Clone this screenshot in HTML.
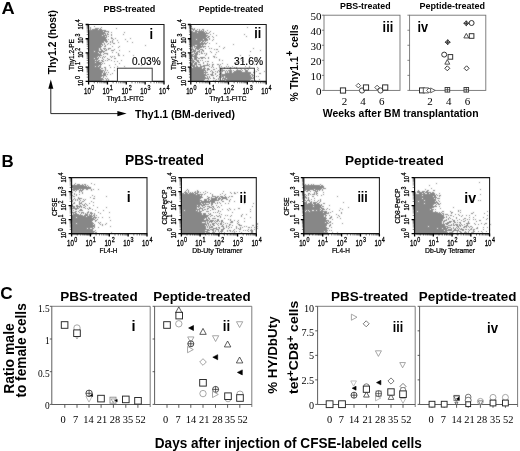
<!DOCTYPE html><html><head><meta charset="utf-8"><title>Figure</title><style>html,body{margin:0;padding:0;background:#fff}svg{display:block;will-change:transform}.ls{font-family:"Liberation Sans",sans-serif}.lf{font-family:"Liberation Serif",serif}</style></head><body>
<svg width="520" height="451" viewBox="0 0 520 451">
<defs><filter id="bl" x="-5%" y="-5%" width="110%" height="110%"><feConvolveMatrix order="3" kernelMatrix="1 2 1 2 14 2 1 2 1" divisor="26" edgeMode="none" preserveAlpha="false"/></filter></defs>
<rect width="520" height="451" fill="#fff"/>
<text class="ls" x="1.6" y="13.5" font-size="17.4" font-weight="bold" text-anchor="start" fill="#000" textLength="13.2" lengthAdjust="spacingAndGlyphs">A</text>
<text class="ls" x="1.5" y="167.4" font-size="16.8" font-weight="bold" text-anchor="start" fill="#000" textLength="12.2" lengthAdjust="spacingAndGlyphs">B</text>
<text class="ls" x="0.2" y="298.7" font-size="17" font-weight="bold" text-anchor="start" fill="#000" textLength="12.4" lengthAdjust="spacingAndGlyphs">C</text>
<text class="ls" x="103.4" y="12.4" font-size="9" font-weight="bold" text-anchor="start" fill="#000" textLength="51.8" lengthAdjust="spacingAndGlyphs">PBS-treated</text>
<text class="ls" x="198.8" y="12.4" font-size="9" font-weight="bold" text-anchor="start" fill="#000" textLength="64.6" lengthAdjust="spacingAndGlyphs">Peptide-treated</text>
<path d="M94 26h1v1h-1zM88 27h1v1h-1zM90 27h1v1h-1zM101 27h1v1h-1zM90 28h1v1h-1zM95 28h4v1h-4zM100 28h1v1h-1zM116 28h1v1h-1zM88 29h1v1h-1zM90 29h1v1h-1zM92 29h6v1h-6zM99 29h3v1h-3zM89 30h17v1h-17zM88 31h15v1h-15zM104 31h5v1h-5zM88 32h17v1h-17zM108 32h1v1h-1zM111 32h1v1h-1zM124 32h1v1h-1zM88 33h18v1h-18zM107 33h1v1h-1zM88 34h16v1h-16zM105 34h1v1h-1zM107 34h2v1h-2zM111 34h1v1h-1zM123 34h1v1h-1zM88 35h14v1h-14zM103 35h4v1h-4zM111 35h1v1h-1zM88 36h17v1h-17zM106 36h1v1h-1zM108 36h1v1h-1zM88 37h19v1h-19zM111 37h1v1h-1zM88 38h18v1h-18zM111 38h2v1h-2zM115 38h1v1h-1zM130 38h1v1h-1zM88 39h19v1h-19zM108 39h1v1h-1zM113 39h1v1h-1zM125 39h1v1h-1zM88 40h19v1h-19zM112 40h1v1h-1zM117 40h1v1h-1zM88 41h16v1h-16zM105 41h3v1h-3zM110 41h1v1h-1zM112 41h1v1h-1zM127 41h1v1h-1zM88 42h16v1h-16zM106 42h1v1h-1zM110 42h1v1h-1zM112 42h1v1h-1zM118 42h1v1h-1zM132 42h1v1h-1zM88 43h14v1h-14zM104 43h1v1h-1zM108 43h1v1h-1zM113 43h2v1h-2zM88 44h15v1h-15zM104 44h1v1h-1zM107 44h1v1h-1zM110 44h1v1h-1zM88 45h13v1h-13zM102 45h1v1h-1zM105 45h1v1h-1zM145 45h1v1h-1zM88 46h14v1h-14zM104 46h2v1h-2zM112 46h1v1h-1zM119 46h1v1h-1zM88 47h13v1h-13zM118 47h1v1h-1zM88 48h11v1h-11zM100 48h1v1h-1zM103 48h3v1h-3zM108 48h3v1h-3zM88 49h11v1h-11zM100 49h2v1h-2zM104 49h1v1h-1zM106 49h1v1h-1zM108 49h1v1h-1zM114 49h1v1h-1zM88 50h11v1h-11zM101 50h2v1h-2zM105 50h2v1h-2zM111 50h3v1h-3zM119 50h1v1h-1zM89 51h5v1h-5zM95 51h10v1h-10zM129 51h1v1h-1zM88 52h10v1h-10zM99 52h3v1h-3zM103 52h1v1h-1zM112 52h1v1h-1zM116 52h1v1h-1zM88 53h11v1h-11zM100 53h1v1h-1zM104 53h4v1h-4zM118 53h1v1h-1zM88 54h13v1h-13zM103 54h1v1h-1zM107 54h1v1h-1zM118 54h1v1h-1zM88 55h14v1h-14zM118 55h2v1h-2zM123 55h1v1h-1zM133 55h1v1h-1zM88 56h10v1h-10zM99 56h1v1h-1zM103 56h1v1h-1zM105 56h1v1h-1zM110 56h1v1h-1zM112 56h1v1h-1zM114 56h1v1h-1zM88 57h9v1h-9zM98 57h1v1h-1zM100 57h1v1h-1zM102 57h1v1h-1zM104 57h1v1h-1zM111 57h1v1h-1zM88 58h6v1h-6zM95 58h4v1h-4zM102 58h1v1h-1zM107 58h1v1h-1zM114 58h2v1h-2zM88 59h10v1h-10zM103 59h1v1h-1zM108 59h2v1h-2zM88 60h7v1h-7zM96 60h1v1h-1zM98 60h2v1h-2zM101 60h2v1h-2zM105 60h1v1h-1zM107 60h1v1h-1zM111 60h1v1h-1zM121 60h1v1h-1zM88 61h11v1h-11zM102 61h2v1h-2zM114 61h1v1h-1zM117 61h1v1h-1zM88 62h7v1h-7zM96 62h6v1h-6zM88 63h13v1h-13zM102 63h1v1h-1zM104 63h1v1h-1zM119 63h1v1h-1zM88 64h14v1h-14zM115 64h1v1h-1zM88 65h11v1h-11zM100 65h1v1h-1zM109 65h1v1h-1zM141 65h1v1h-1zM88 66h7v1h-7zM96 66h2v1h-2zM99 66h2v1h-2zM117 66h1v1h-1zM124 66h1v1h-1zM88 67h13v1h-13zM104 67h2v1h-2zM110 67h1v1h-1zM114 67h1v1h-1zM88 68h12v1h-12zM101 68h2v1h-2zM105 68h1v1h-1zM125 68h1v1h-1zM88 69h13v1h-13zM105 69h1v1h-1zM126 69h1v1h-1zM88 70h16v1h-16zM105 70h1v1h-1zM107 70h1v1h-1zM114 70h1v1h-1zM88 71h15v1h-15zM104 71h1v1h-1zM88 72h15v1h-15zM104 72h1v1h-1zM106 72h1v1h-1zM108 72h1v1h-1zM88 73h14v1h-14zM103 73h3v1h-3zM112 73h1v1h-1zM88 74h14v1h-14zM103 74h3v1h-3zM107 74h1v1h-1zM110 74h1v1h-1zM88 75h18v1h-18zM88 76h14v1h-14zM103 76h1v1h-1zM106 76h1v1h-1zM88 77h13v1h-13zM103 77h1v1h-1zM126 77h1v1h-1zM88 78h15v1h-15zM105 78h1v1h-1zM107 78h1v1h-1zM88 79h16v1h-16zM106 79h1v1h-1zM108 79h1v1h-1zM88 80h14v1h-14zM106 80h1v1h-1zM108 80h1v1h-1zM88 81h13v1h-13zM102 81h2v1h-2zM108 81h1v1h-1zM112 81h1v1h-1z" fill="#878787" filter="url(#bl)"/>
<path d="M88.6 24.5H164V81.4" fill="none" stroke="#1a1a1a" stroke-width="1.05"/>
<path d="M88.6 24.1V81.4H164.4" fill="none" stroke="#111" stroke-width="1.15"/>
<path d="M94.27 81.4v1.9M88.6 77.12h-1.9M97.59 81.4v1.9M88.6 74.61h-1.9M99.95 81.4v1.9M88.6 72.84h-1.9M101.78 81.4v1.9M88.6 71.46h-1.9M103.27 81.4v1.9M88.6 70.33h-1.9M104.53 81.4v1.9M88.6 69.38h-1.9M105.62 81.4v1.9M88.6 68.55h-1.9M106.59 81.4v1.9M88.6 67.83h-1.9M113.12 81.4v1.9M88.6 62.89h-1.9M116.44 81.4v1.9M88.6 60.39h-1.9M118.80 81.4v1.9M88.6 58.61h-1.9M120.63 81.4v1.9M88.6 57.23h-1.9M122.12 81.4v1.9M88.6 56.11h-1.9M123.38 81.4v1.9M88.6 55.15h-1.9M124.47 81.4v1.9M88.6 54.33h-1.9M125.44 81.4v1.9M88.6 53.60h-1.9M131.97 81.4v1.9M88.6 48.67h-1.9M135.29 81.4v1.9M88.6 46.16h-1.9M137.65 81.4v1.9M88.6 44.39h-1.9M139.48 81.4v1.9M88.6 43.01h-1.9M140.97 81.4v1.9M88.6 41.88h-1.9M142.23 81.4v1.9M88.6 40.93h-1.9M143.32 81.4v1.9M88.6 40.10h-1.9M144.29 81.4v1.9M88.6 39.38h-1.9M150.82 81.4v1.9M88.6 34.44h-1.9M154.14 81.4v1.9M88.6 31.94h-1.9M156.50 81.4v1.9M88.6 30.16h-1.9M158.33 81.4v1.9M88.6 28.78h-1.9M159.82 81.4v1.9M88.6 27.66h-1.9M161.08 81.4v1.9M88.6 26.70h-1.9M162.17 81.4v1.9M88.6 25.88h-1.9M163.14 81.4v1.9M88.6 25.15h-1.9" stroke="#222" stroke-width="0.6" fill="none"/>
<path d="M88.60 81.4v3.0M88.6 81.40h-3.0M107.45 81.4v3.0M88.6 67.18h-3.0M126.30 81.4v3.0M88.6 52.95h-3.0M145.15 81.4v3.0M88.6 38.73h-3.0M164 81.4v3.0M88.6 24.5h-3.0" stroke="#000" stroke-width="1.3" fill="none"/>
<text class="ls" transform="translate(84.00 93.90) scale(0.73 1)" font-size="8.4" fill="#000" stroke="#000" stroke-width="0.3">10<tspan dx="0.7" dy="-3.8" font-size="7.4">0</tspan></text>
<text class="ls" transform="translate(83.30 86.10) rotate(-90) scale(0.75 1)" font-size="7.6" fill="#000" stroke="#000" stroke-width="0.3">10<tspan dx="1" dy="-3.8" font-size="7">0</tspan></text>
<text class="ls" transform="translate(102.55 93.90) scale(0.73 1)" font-size="8.4" fill="#000" stroke="#000" stroke-width="0.3">10<tspan dx="0.7" dy="-3.8" font-size="7.4">1</tspan></text>
<text class="ls" transform="translate(83.30 72.08) rotate(-90) scale(0.75 1)" font-size="7.6" fill="#000" stroke="#000" stroke-width="0.3">10<tspan dx="1" dy="-3.8" font-size="7">1</tspan></text>
<text class="ls" transform="translate(121.40 93.90) scale(0.73 1)" font-size="8.4" fill="#000" stroke="#000" stroke-width="0.3">10<tspan dx="0.7" dy="-3.8" font-size="7.4">2</tspan></text>
<text class="ls" transform="translate(83.30 57.85) rotate(-90) scale(0.75 1)" font-size="7.6" fill="#000" stroke="#000" stroke-width="0.3">10<tspan dx="1" dy="-3.8" font-size="7">2</tspan></text>
<text class="ls" transform="translate(140.25 93.90) scale(0.73 1)" font-size="8.4" fill="#000" stroke="#000" stroke-width="0.3">10<tspan dx="0.7" dy="-3.8" font-size="7.4">3</tspan></text>
<text class="ls" transform="translate(83.30 43.62) rotate(-90) scale(0.75 1)" font-size="7.6" fill="#000" stroke="#000" stroke-width="0.3">10<tspan dx="1" dy="-3.8" font-size="7">3</tspan></text>
<text class="ls" transform="translate(159.10 93.90) scale(0.73 1)" font-size="8.4" fill="#000" stroke="#000" stroke-width="0.3">10<tspan dx="0.7" dy="-3.8" font-size="7.4">4</tspan></text>
<text class="ls" transform="translate(83.30 29.40) rotate(-90) scale(0.75 1)" font-size="7.6" fill="#000" stroke="#000" stroke-width="0.3">10<tspan dx="1" dy="-3.8" font-size="7">4</tspan></text>
<text class="ls" x="125.3" y="100.5" font-size="6.6" text-anchor="middle" fill="#000" stroke="#000" stroke-width="0.22" textLength="37" lengthAdjust="spacingAndGlyphs">Thy1.1-FITC</text>
<text class="ls" x="74.19999999999999" y="54.5" font-size="6.8" text-anchor="middle" fill="#000" transform="rotate(-90 74.19999999999999 54.5)" stroke="#000" stroke-width="0.22" textLength="31" lengthAdjust="spacingAndGlyphs">Thy1.2-PE</text>
<rect x="117.4" y="68.2" width="34.8" height="13.2" fill="#fff" stroke="#333" stroke-width="0.95"/>
<text class="ls" x="132" y="64.6" font-size="10" text-anchor="start" fill="#000" stroke="#000" stroke-width="0.15" textLength="28.6" lengthAdjust="spacingAndGlyphs">0.03%</text>
<text class="ls" x="149.6" y="38.6" font-size="15" font-weight="bold" text-anchor="start" fill="#000" textLength="3.6" lengthAdjust="spacingAndGlyphs">i</text>
<path d="M191 26h1v1h-1zM247 27h1v1h-1zM191 28h2v1h-2zM194 28h1v1h-1zM192 29h3v1h-3zM197 29h1v1h-1zM199 29h1v1h-1zM202 29h2v1h-2zM193 30h1v1h-1zM195 30h2v1h-2zM199 30h1v1h-1zM201 30h1v1h-1zM203 30h1v1h-1zM207 30h1v1h-1zM190 31h3v1h-3zM195 31h9v1h-9zM205 31h1v1h-1zM210 31h1v1h-1zM190 32h7v1h-7zM198 32h7v1h-7zM206 32h1v1h-1zM209 32h1v1h-1zM190 33h19v1h-19zM213 33h1v1h-1zM190 34h16v1h-16zM210 34h1v1h-1zM244 34h1v1h-1zM190 35h18v1h-18zM216 35h1v1h-1zM190 36h17v1h-17zM208 36h2v1h-2zM212 36h1v1h-1zM246 36h1v1h-1zM190 37h16v1h-16zM207 37h2v1h-2zM213 37h1v1h-1zM190 38h17v1h-17zM209 38h1v1h-1zM255 38h1v1h-1zM190 39h6v1h-6zM197 39h6v1h-6zM204 39h4v1h-4zM209 39h1v1h-1zM213 39h1v1h-1zM190 40h18v1h-18zM212 40h1v1h-1zM190 41h11v1h-11zM202 41h2v1h-2zM205 41h1v1h-1zM190 42h10v1h-10zM201 42h2v1h-2zM204 42h1v1h-1zM207 42h1v1h-1zM190 43h17v1h-17zM209 43h1v1h-1zM216 43h1v1h-1zM190 44h14v1h-14zM205 44h1v1h-1zM233 44h1v1h-1zM190 45h5v1h-5zM197 45h4v1h-4zM202 45h1v1h-1zM190 46h3v1h-3zM194 46h12v1h-12zM208 46h1v1h-1zM219 46h1v1h-1zM190 47h1v1h-1zM192 47h1v1h-1zM194 47h1v1h-1zM196 47h6v1h-6zM203 47h1v1h-1zM224 47h1v1h-1zM192 48h1v1h-1zM195 48h5v1h-5zM205 48h1v1h-1zM209 48h1v1h-1zM211 48h1v1h-1zM223 48h1v1h-1zM253 48h1v1h-1zM190 49h4v1h-4zM195 49h1v1h-1zM197 49h2v1h-2zM200 49h3v1h-3zM214 49h1v1h-1zM216 49h2v1h-2zM190 50h2v1h-2zM193 50h3v1h-3zM199 50h1v1h-1zM202 50h2v1h-2zM260 50h1v1h-1zM192 51h4v1h-4zM197 51h3v1h-3zM201 51h1v1h-1zM203 51h1v1h-1zM210 51h1v1h-1zM218 51h1v1h-1zM250 51h1v1h-1zM190 52h3v1h-3zM194 52h1v1h-1zM196 52h2v1h-2zM199 52h1v1h-1zM201 52h1v1h-1zM211 52h1v1h-1zM216 52h1v1h-1zM194 53h4v1h-4zM201 53h2v1h-2zM204 53h1v1h-1zM206 53h1v1h-1zM191 54h3v1h-3zM195 54h3v1h-3zM199 54h1v1h-1zM206 54h1v1h-1zM215 54h1v1h-1zM190 55h3v1h-3zM194 55h3v1h-3zM205 55h1v1h-1zM240 55h1v1h-1zM249 55h1v1h-1zM190 56h7v1h-7zM213 56h2v1h-2zM190 57h2v1h-2zM194 57h4v1h-4zM200 57h5v1h-5zM208 57h1v1h-1zM214 57h1v1h-1zM216 57h1v1h-1zM190 58h3v1h-3zM194 58h3v1h-3zM198 58h2v1h-2zM201 58h2v1h-2zM205 58h1v1h-1zM208 58h1v1h-1zM190 59h1v1h-1zM192 59h1v1h-1zM194 59h3v1h-3zM219 59h1v1h-1zM191 60h3v1h-3zM196 60h3v1h-3zM200 60h1v1h-1zM202 60h1v1h-1zM219 60h1v1h-1zM222 60h1v1h-1zM241 60h1v1h-1zM192 61h3v1h-3zM197 61h2v1h-2zM205 61h1v1h-1zM207 61h2v1h-2zM243 61h1v1h-1zM190 62h1v1h-1zM192 62h2v1h-2zM195 62h2v1h-2zM198 62h2v1h-2zM203 62h1v1h-1zM212 62h1v1h-1zM236 62h2v1h-2zM190 63h3v1h-3zM194 63h3v1h-3zM203 63h1v1h-1zM207 63h1v1h-1zM222 63h1v1h-1zM190 64h3v1h-3zM194 64h3v1h-3zM198 64h3v1h-3zM207 64h1v1h-1zM209 64h1v1h-1zM212 64h2v1h-2zM217 64h2v1h-2zM220 64h1v1h-1zM227 64h1v1h-1zM254 64h1v1h-1zM256 64h1v1h-1zM190 65h5v1h-5zM196 65h1v1h-1zM200 65h1v1h-1zM203 65h6v1h-6zM212 65h1v1h-1zM219 65h1v1h-1zM190 66h1v1h-1zM192 66h3v1h-3zM196 66h2v1h-2zM200 66h5v1h-5zM209 66h1v1h-1zM212 66h1v1h-1zM219 66h1v1h-1zM221 66h1v1h-1zM226 66h1v1h-1zM228 66h1v1h-1zM232 66h1v1h-1zM245 66h1v1h-1zM249 66h1v1h-1zM190 67h2v1h-2zM193 67h9v1h-9zM204 67h1v1h-1zM211 67h1v1h-1zM213 67h1v1h-1zM219 67h1v1h-1zM224 67h1v1h-1zM230 67h1v1h-1zM234 67h1v1h-1zM236 67h1v1h-1zM249 67h1v1h-1zM257 67h1v1h-1zM190 68h12v1h-12zM203 68h3v1h-3zM207 68h2v1h-2zM216 68h1v1h-1zM221 68h1v1h-1zM224 68h1v1h-1zM227 68h1v1h-1zM229 68h2v1h-2zM236 68h1v1h-1zM240 68h1v1h-1zM247 68h1v1h-1zM258 68h1v1h-1zM190 69h15v1h-15zM207 69h3v1h-3zM213 69h2v1h-2zM220 69h3v1h-3zM230 69h1v1h-1zM237 69h1v1h-1zM241 69h1v1h-1zM244 69h2v1h-2zM248 69h1v1h-1zM257 69h1v1h-1zM190 70h16v1h-16zM207 70h1v1h-1zM211 70h1v1h-1zM218 70h1v1h-1zM220 70h5v1h-5zM226 70h1v1h-1zM228 70h4v1h-4zM233 70h1v1h-1zM236 70h5v1h-5zM242 70h1v1h-1zM245 70h3v1h-3zM254 70h1v1h-1zM258 70h1v1h-1zM190 71h14v1h-14zM205 71h1v1h-1zM210 71h1v1h-1zM212 71h1v1h-1zM215 71h1v1h-1zM217 71h1v1h-1zM219 71h1v1h-1zM221 71h2v1h-2zM225 71h1v1h-1zM227 71h1v1h-1zM229 71h3v1h-3zM234 71h8v1h-8zM245 71h3v1h-3zM254 71h1v1h-1zM256 71h1v1h-1zM264 71h1v1h-1zM190 72h18v1h-18zM212 72h2v1h-2zM217 72h1v1h-1zM221 72h1v1h-1zM225 72h1v1h-1zM227 72h1v1h-1zM229 72h3v1h-3zM233 72h18v1h-18zM253 72h2v1h-2zM190 73h14v1h-14zM205 73h1v1h-1zM212 73h1v1h-1zM215 73h1v1h-1zM220 73h2v1h-2zM225 73h26v1h-26zM254 73h1v1h-1zM259 73h2v1h-2zM190 74h16v1h-16zM207 74h2v1h-2zM210 74h3v1h-3zM215 74h1v1h-1zM219 74h1v1h-1zM221 74h29v1h-29zM251 74h2v1h-2zM190 75h17v1h-17zM211 75h3v1h-3zM217 75h1v1h-1zM221 75h30v1h-30zM252 75h2v1h-2zM190 76h15v1h-15zM207 76h1v1h-1zM209 76h1v1h-1zM216 76h1v1h-1zM219 76h1v1h-1zM221 76h3v1h-3zM225 76h26v1h-26zM252 76h1v1h-1zM254 76h1v1h-1zM256 76h1v1h-1zM258 76h1v1h-1zM190 77h16v1h-16zM207 77h1v1h-1zM209 77h1v1h-1zM213 77h1v1h-1zM219 77h1v1h-1zM221 77h1v1h-1zM223 77h1v1h-1zM225 77h27v1h-27zM253 77h1v1h-1zM190 78h19v1h-19zM210 78h1v1h-1zM213 78h2v1h-2zM218 78h1v1h-1zM222 78h4v1h-4zM227 78h27v1h-27zM190 79h15v1h-15zM208 79h1v1h-1zM216 79h1v1h-1zM218 79h1v1h-1zM222 79h1v1h-1zM224 79h27v1h-27zM259 79h1v1h-1zM190 80h14v1h-14zM207 80h1v1h-1zM213 80h1v1h-1zM215 80h1v1h-1zM221 80h4v1h-4zM226 80h24v1h-24zM251 80h2v1h-2zM255 80h1v1h-1zM190 81h15v1h-15zM206 81h1v1h-1zM208 81h1v1h-1zM214 81h1v1h-1zM219 81h2v1h-2zM222 81h1v1h-1zM224 81h1v1h-1zM227 81h1v1h-1zM230 81h21v1h-21zM253 81h2v1h-2z" fill="#878787" filter="url(#bl)"/>
<path d="M190.8 24.5H266.2V81.4" fill="none" stroke="#1a1a1a" stroke-width="1.05"/>
<path d="M190.8 24.1V81.4H266.59999999999997" fill="none" stroke="#111" stroke-width="1.15"/>
<path d="M196.47 81.4v1.9M190.8 77.12h-1.9M199.79 81.4v1.9M190.8 74.61h-1.9M202.15 81.4v1.9M190.8 72.84h-1.9M203.98 81.4v1.9M190.8 71.46h-1.9M205.47 81.4v1.9M190.8 70.33h-1.9M206.73 81.4v1.9M190.8 69.38h-1.9M207.82 81.4v1.9M190.8 68.55h-1.9M208.79 81.4v1.9M190.8 67.83h-1.9M215.32 81.4v1.9M190.8 62.89h-1.9M218.64 81.4v1.9M190.8 60.39h-1.9M221.00 81.4v1.9M190.8 58.61h-1.9M222.83 81.4v1.9M190.8 57.23h-1.9M224.32 81.4v1.9M190.8 56.11h-1.9M225.58 81.4v1.9M190.8 55.15h-1.9M226.67 81.4v1.9M190.8 54.33h-1.9M227.64 81.4v1.9M190.8 53.60h-1.9M234.17 81.4v1.9M190.8 48.67h-1.9M237.49 81.4v1.9M190.8 46.16h-1.9M239.85 81.4v1.9M190.8 44.39h-1.9M241.68 81.4v1.9M190.8 43.01h-1.9M243.17 81.4v1.9M190.8 41.88h-1.9M244.43 81.4v1.9M190.8 40.93h-1.9M245.52 81.4v1.9M190.8 40.10h-1.9M246.49 81.4v1.9M190.8 39.38h-1.9M253.02 81.4v1.9M190.8 34.44h-1.9M256.34 81.4v1.9M190.8 31.94h-1.9M258.70 81.4v1.9M190.8 30.16h-1.9M260.53 81.4v1.9M190.8 28.78h-1.9M262.02 81.4v1.9M190.8 27.66h-1.9M263.28 81.4v1.9M190.8 26.70h-1.9M264.37 81.4v1.9M190.8 25.88h-1.9M265.34 81.4v1.9M190.8 25.15h-1.9" stroke="#222" stroke-width="0.6" fill="none"/>
<path d="M190.80 81.4v3.0M190.8 81.40h-3.0M209.65 81.4v3.0M190.8 67.18h-3.0M228.50 81.4v3.0M190.8 52.95h-3.0M247.35 81.4v3.0M190.8 38.73h-3.0M266.2 81.4v3.0M190.8 24.5h-3.0" stroke="#000" stroke-width="1.3" fill="none"/>
<text class="ls" transform="translate(186.20 93.90) scale(0.73 1)" font-size="8.4" fill="#000" stroke="#000" stroke-width="0.3">10<tspan dx="0.7" dy="-3.8" font-size="7.4">0</tspan></text>
<text class="ls" transform="translate(185.50 86.10) rotate(-90) scale(0.75 1)" font-size="7.6" fill="#000" stroke="#000" stroke-width="0.3">10<tspan dx="1" dy="-3.8" font-size="7">0</tspan></text>
<text class="ls" transform="translate(204.75 93.90) scale(0.73 1)" font-size="8.4" fill="#000" stroke="#000" stroke-width="0.3">10<tspan dx="0.7" dy="-3.8" font-size="7.4">1</tspan></text>
<text class="ls" transform="translate(185.50 72.08) rotate(-90) scale(0.75 1)" font-size="7.6" fill="#000" stroke="#000" stroke-width="0.3">10<tspan dx="1" dy="-3.8" font-size="7">1</tspan></text>
<text class="ls" transform="translate(223.60 93.90) scale(0.73 1)" font-size="8.4" fill="#000" stroke="#000" stroke-width="0.3">10<tspan dx="0.7" dy="-3.8" font-size="7.4">2</tspan></text>
<text class="ls" transform="translate(185.50 57.85) rotate(-90) scale(0.75 1)" font-size="7.6" fill="#000" stroke="#000" stroke-width="0.3">10<tspan dx="1" dy="-3.8" font-size="7">2</tspan></text>
<text class="ls" transform="translate(242.45 93.90) scale(0.73 1)" font-size="8.4" fill="#000" stroke="#000" stroke-width="0.3">10<tspan dx="0.7" dy="-3.8" font-size="7.4">3</tspan></text>
<text class="ls" transform="translate(185.50 43.62) rotate(-90) scale(0.75 1)" font-size="7.6" fill="#000" stroke="#000" stroke-width="0.3">10<tspan dx="1" dy="-3.8" font-size="7">3</tspan></text>
<text class="ls" transform="translate(261.30 93.90) scale(0.73 1)" font-size="8.4" fill="#000" stroke="#000" stroke-width="0.3">10<tspan dx="0.7" dy="-3.8" font-size="7.4">4</tspan></text>
<text class="ls" transform="translate(185.50 29.40) rotate(-90) scale(0.75 1)" font-size="7.6" fill="#000" stroke="#000" stroke-width="0.3">10<tspan dx="1" dy="-3.8" font-size="7">4</tspan></text>
<text class="ls" x="228.0" y="100.5" font-size="6.6" text-anchor="middle" fill="#000" stroke="#000" stroke-width="0.22" textLength="37" lengthAdjust="spacingAndGlyphs">Thy1.1-FITC</text>
<text class="ls" x="176.4" y="54.5" font-size="6.8" text-anchor="middle" fill="#000" transform="rotate(-90 176.4 54.5)" stroke="#000" stroke-width="0.22" textLength="31" lengthAdjust="spacingAndGlyphs">Thy1.2-PE</text>
<rect x="220.2" y="68.2" width="34.2" height="13.2" fill="none" stroke="#333" stroke-width="0.95"/>
<text class="ls" x="234" y="64.6" font-size="10" text-anchor="start" fill="#000" stroke="#000" stroke-width="0.15" textLength="29" lengthAdjust="spacingAndGlyphs">31.6%</text>
<text class="ls" x="254.2" y="37.9" font-size="15" font-weight="bold" text-anchor="start" fill="#000" textLength="7" lengthAdjust="spacingAndGlyphs">ii</text>
<text class="ls" x="56.2" y="74.2" font-size="10.3" font-weight="bold" text-anchor="start" fill="#000" transform="rotate(-90 56.2 74.2)">Thy1.2 (host)</text>
<path d="M50.8 87V113.6H119" stroke="#111" stroke-width="0.9" fill="none"/>
<path d="M50.8 79.6l-2.5 9.2h5z" fill="#000"/>
<path d="M126.6 113.6l-9.2 -2.6v5.2z" fill="#000"/>
<text class="ls" x="135" y="118.2" font-size="10.4" font-weight="bold" text-anchor="start" fill="#000" textLength="100" lengthAdjust="spacingAndGlyphs">Thy1.1 (BM-derived)</text>
<text class="ls" x="340" y="9.0" font-size="8.9" font-weight="bold" text-anchor="start" fill="#000" textLength="50.6" lengthAdjust="spacingAndGlyphs">PBS-treated</text>
<text class="ls" x="419.4" y="9.0" font-size="8.9" font-weight="bold" text-anchor="start" fill="#000" textLength="65.6" lengthAdjust="spacingAndGlyphs">Peptide-treated</text>
<rect x="324" y="15.2" width="76" height="75.2" fill="none" stroke="#727272" stroke-width="0.9"/>
<rect x="409.6" y="15.2" width="76.19999999999999" height="75.2" fill="none" stroke="#727272" stroke-width="0.9"/>
<text class="lf" x="321.6" y="95.2" font-size="11" text-anchor="end" fill="#000">0</text>
<text class="lf" x="321.6" y="80.16000000000001" font-size="11" text-anchor="end" fill="#000">10</text>
<text class="lf" x="321.6" y="65.12" font-size="11" text-anchor="end" fill="#000">20</text>
<text class="lf" x="321.6" y="50.080000000000005" font-size="11" text-anchor="end" fill="#000">30</text>
<text class="lf" x="321.6" y="35.040000000000006" font-size="11" text-anchor="end" fill="#000">40</text>
<text class="lf" x="321.6" y="20.000000000000018" font-size="11" text-anchor="end" fill="#000">50</text>
<path d="M324 90.40h-2.2M409.6 90.40h-2.2M324 75.36h-2.2M409.6 75.36h-2.2M324 60.32h-2.2M409.6 60.32h-2.2M324 45.28h-2.2M409.6 45.28h-2.2M324 30.24h-2.2M409.6 30.24h-2.2M324 15.20h-2.2M409.6 15.20h-2.2" stroke="#555" stroke-width="0.7" fill="none"/>
<text class="lf" x="344.4" y="105" font-size="11" text-anchor="middle" fill="#000">2</text>
<text class="lf" x="363" y="105" font-size="11" text-anchor="middle" fill="#000">4</text>
<text class="lf" x="381.8" y="105" font-size="11" text-anchor="middle" fill="#000">6</text>
<text class="lf" x="430" y="105" font-size="11" text-anchor="middle" fill="#000">2</text>
<text class="lf" x="448.8" y="105" font-size="11" text-anchor="middle" fill="#000">4</text>
<text class="lf" x="467.4" y="105" font-size="11" text-anchor="middle" fill="#000">6</text>
<text class="ls" x="297.6" y="101.5" font-size="10.6" font-weight="bold" text-anchor="start" fill="#000" transform="rotate(-90 297.6 101.5)" textLength="77" lengthAdjust="spacingAndGlyphs">% Thy1.1<tspan dy="-4.2" font-size="10">+</tspan><tspan dy="4.2"> cells</tspan></text>
<text class="ls" x="322.8" y="117.3" font-size="10.4" font-weight="bold" text-anchor="start" fill="#000" textLength="155.8" lengthAdjust="spacingAndGlyphs">Weeks after BM transplantation</text>
<text class="ls" x="382.6" y="32" font-size="14.4" font-weight="bold" text-anchor="start" fill="#000" textLength="10.6" lengthAdjust="spacingAndGlyphs">iii</text>
<text class="ls" x="417.4" y="32" font-size="14.8" font-weight="bold" text-anchor="start" fill="#000" textLength="10.6" lengthAdjust="spacingAndGlyphs">iv</text>
<rect x="340.40" y="87.90" width="5.2" height="5.2" fill="#fff" stroke="#262626" stroke-width="0.95"/>
<path d="M358.3 83.3L360.6 85.6L358.3 87.89999999999999L356.0 85.6z" fill="#fff" stroke="#444" stroke-width="0.9"/>
<circle cx="362" cy="90.5" r="2.6" fill="#fff" stroke="#333" stroke-width="0.9"/>
<rect x="363.40" y="84.90" width="5.2" height="5.2" fill="#fff" stroke="#262626" stroke-width="0.95"/>
<path d="M377.1 85.2L379.40000000000003 87.5L377.1 89.8L374.8 87.5z" fill="#fff" stroke="#444" stroke-width="0.9"/>
<circle cx="380.5" cy="90.5" r="2.6" fill="#fff" stroke="#333" stroke-width="0.9"/>
<rect x="382.60" y="84.90" width="5.2" height="5.2" fill="#fff" stroke="#262626" stroke-width="0.95"/>
<rect x="419.50" y="87.90" width="5.0" height="5.0" fill="#fff" stroke="#262626" stroke-width="0.95"/>
<rect x="423.30" y="87.90" width="5.0" height="5.0" fill="#fff" stroke="#555" stroke-width="0.95"/>
<path d="M429 88.0L431.4 90.4L429 92.80000000000001L426.6 90.4z" fill="#fff" stroke="#484848" stroke-width="0.85"/>
<path d="M435.20000000000005 90.4L430.65000000000003 87.93V92.87z" fill="#fff" stroke="#444" stroke-width="0.8"/>
<rect x="445.10" y="87.50" width="4.6" height="4.6" fill="#fff" stroke="#333" stroke-width="0.9"/>
<path d="M445.09999999999997 89.8H449.7M447.4 87.5V92.1" stroke="#333" stroke-width="0.81" fill="none"/>
<rect x="464.00" y="87.50" width="4.6" height="4.6" fill="#fff" stroke="#333" stroke-width="0.9"/>
<path d="M464.0 89.8H468.6M466.3 87.5V92.1" stroke="#333" stroke-width="0.81" fill="none"/>
<path d="M447.7 39.800000000000004L450.09999999999997 42.2L447.7 44.6L445.3 42.2z" fill="#d8d8d8" stroke="#2a2a2a" stroke-width="0.9"/>
<path d="M444.99999999999994 42.2H450.40000000000003M447.7 39.5V44.900000000000006" stroke="#2a2a2a" stroke-width="0.9" fill="none"/>
<circle cx="444.2" cy="54.6" r="2.5" fill="#fff" stroke="#333" stroke-width="1.0"/>
<rect x="448.10" y="54.60" width="4.6" height="4.6" fill="#fff" stroke="#2a2a2a" stroke-width="0.95"/>
<path d="M447.3 59.6L449.77000000000004 64.15H444.83z" fill="#fff" stroke="#444" stroke-width="0.95"/>
<path d="M447.3 65.8L449.8 68.3L447.3 70.8L444.8 68.3z" fill="#fff" stroke="#383838" stroke-width="1.0"/>
<path d="M466.3 20.900000000000002L468.7 23.3L466.3 25.7L463.90000000000003 23.3z" fill="#d8d8d8" stroke="#2a2a2a" stroke-width="0.9"/>
<path d="M463.59999999999997 23.3H469.00000000000006M466.3 20.599999999999998V26.000000000000004" stroke="#2a2a2a" stroke-width="0.9" fill="none"/>
<circle cx="471.6" cy="23" r="2.5" fill="#fff" stroke="#333" stroke-width="1.0"/>
<path d="M466.3 33.4L468.77000000000004 37.95H463.83z" fill="#fff" stroke="#444" stroke-width="0.95"/>
<rect x="469.30" y="33.70" width="4.6" height="4.6" fill="#fff" stroke="#2a2a2a" stroke-width="0.95"/>
<path d="M466.6 65.8L469.1 68.3L466.6 70.8L464.1 68.3z" fill="#fff" stroke="#383838" stroke-width="1.0"/>
<text class="ls" x="164.5" y="165.4" font-size="13.8" font-weight="bold" text-anchor="middle" fill="#000">PBS-treated</text>
<text class="ls" x="394.4" y="165.4" font-size="13.6" font-weight="bold" text-anchor="middle" fill="#000">Peptide-treated</text>
<path d="M75 183h1v1h-1zM91 183h1v1h-1zM74 184h1v1h-1zM77 184h3v1h-3zM82 184h1v1h-1zM84 184h2v1h-2zM94 184h1v1h-1zM71 185h13v1h-13zM85 185h1v1h-1zM87 185h1v1h-1zM71 186h16v1h-16zM88 186h1v1h-1zM71 187h20v1h-20zM71 188h1v1h-1zM73 188h18v1h-18zM72 189h7v1h-7zM80 189h1v1h-1zM82 189h2v1h-2zM86 189h2v1h-2zM91 189h1v1h-1zM93 189h1v1h-1zM98 189h1v1h-1zM73 190h2v1h-2zM76 190h1v1h-1zM79 190h4v1h-4zM91 190h1v1h-1zM71 191h1v1h-1zM75 191h1v1h-1zM79 191h1v1h-1zM81 191h1v1h-1zM72 192h1v1h-1zM79 192h1v1h-1zM82 192h1v1h-1zM74 193h1v1h-1zM82 193h1v1h-1zM74 194h1v1h-1zM76 194h1v1h-1zM79 194h1v1h-1zM72 195h1v1h-1zM76 195h1v1h-1zM92 195h1v1h-1zM73 196h2v1h-2zM94 196h1v1h-1zM106 196h1v1h-1zM78 197h1v1h-1zM90 197h1v1h-1zM74 198h1v1h-1zM78 198h4v1h-4zM93 198h2v1h-2zM73 199h1v1h-1zM75 199h1v1h-1zM77 199h1v1h-1zM79 199h1v1h-1zM83 199h1v1h-1zM85 199h1v1h-1zM72 200h1v1h-1zM75 200h1v1h-1zM77 200h1v1h-1zM80 200h1v1h-1zM84 200h1v1h-1zM72 201h1v1h-1zM79 201h1v1h-1zM82 201h2v1h-2zM91 201h1v1h-1zM74 202h1v1h-1zM79 202h1v1h-1zM81 202h1v1h-1zM93 202h1v1h-1zM73 203h2v1h-2zM79 203h3v1h-3zM85 203h1v1h-1zM89 203h1v1h-1zM72 204h1v1h-1zM79 204h1v1h-1zM82 204h1v1h-1zM84 204h1v1h-1zM86 204h1v1h-1zM71 205h2v1h-2zM76 205h2v1h-2zM80 205h1v1h-1zM83 205h2v1h-2zM87 205h1v1h-1zM93 205h1v1h-1zM71 206h4v1h-4zM76 206h6v1h-6zM85 206h1v1h-1zM71 207h1v1h-1zM73 207h2v1h-2zM77 207h1v1h-1zM79 207h1v1h-1zM81 207h1v1h-1zM83 207h2v1h-2zM89 207h1v1h-1zM97 207h1v1h-1zM106 207h1v1h-1zM72 208h7v1h-7zM85 208h1v1h-1zM87 208h1v1h-1zM89 208h2v1h-2zM75 209h2v1h-2zM80 209h2v1h-2zM88 209h1v1h-1zM92 209h1v1h-1zM71 210h1v1h-1zM73 210h1v1h-1zM79 210h4v1h-4zM95 210h1v1h-1zM103 210h1v1h-1zM75 211h2v1h-2zM78 211h1v1h-1zM88 211h1v1h-1zM71 212h5v1h-5zM79 212h1v1h-1zM81 212h3v1h-3zM87 212h2v1h-2zM90 212h2v1h-2zM98 212h1v1h-1zM109 212h1v1h-1zM73 213h1v1h-1zM75 213h2v1h-2zM81 213h1v1h-1zM83 213h1v1h-1zM85 213h1v1h-1zM87 213h1v1h-1zM90 213h3v1h-3zM94 213h1v1h-1zM100 213h1v1h-1zM73 214h6v1h-6zM80 214h1v1h-1zM85 214h3v1h-3zM89 214h1v1h-1zM91 214h1v1h-1zM94 214h1v1h-1zM71 215h12v1h-12zM84 215h4v1h-4zM89 215h3v1h-3zM93 215h2v1h-2zM96 215h1v1h-1zM71 216h15v1h-15zM87 216h6v1h-6zM94 216h1v1h-1zM71 217h5v1h-5zM77 217h15v1h-15zM93 217h4v1h-4zM98 217h1v1h-1zM102 217h1v1h-1zM109 217h1v1h-1zM71 218h23v1h-23zM95 218h1v1h-1zM71 219h24v1h-24zM97 219h1v1h-1zM71 220h22v1h-22zM95 220h2v1h-2zM110 220h1v1h-1zM71 221h21v1h-21zM95 221h1v1h-1zM71 222h22v1h-22zM98 222h1v1h-1zM100 222h1v1h-1zM72 223h4v1h-4zM77 223h17v1h-17zM99 223h1v1h-1zM106 223h1v1h-1zM71 224h22v1h-22zM94 224h1v1h-1zM100 224h1v1h-1zM102 224h1v1h-1zM105 224h1v1h-1zM71 225h24v1h-24zM102 225h1v1h-1zM71 226h24v1h-24zM110 226h1v1h-1zM71 227h22v1h-22zM94 227h1v1h-1zM98 227h1v1h-1zM71 228h16v1h-16zM88 228h2v1h-2zM92 228h2v1h-2zM71 229h22v1h-22zM71 230h22v1h-22zM95 230h1v1h-1zM71 231h24v1h-24zM71 232h23v1h-23zM95 232h2v1h-2zM111 232h1v1h-1zM71 233h22v1h-22zM94 233h2v1h-2zM71 234h9v1h-9zM81 234h11v1h-11z" fill="#878787" filter="url(#bl)"/>
<path d="M71.6 177.6H147V233.6" fill="none" stroke="#1a1a1a" stroke-width="1.05"/>
<path d="M71.6 177.2V233.6H147.4" fill="none" stroke="#111" stroke-width="1.15"/>
<path d="M77.27 233.6v1.9M71.6 229.39h-1.9M80.59 233.6v1.9M71.6 226.92h-1.9M82.95 233.6v1.9M71.6 225.17h-1.9M84.78 233.6v1.9M71.6 223.81h-1.9M86.27 233.6v1.9M71.6 222.71h-1.9M87.53 233.6v1.9M71.6 221.77h-1.9M88.62 233.6v1.9M71.6 220.96h-1.9M89.59 233.6v1.9M71.6 220.24h-1.9M96.12 233.6v1.9M71.6 215.39h-1.9M99.44 233.6v1.9M71.6 212.92h-1.9M101.80 233.6v1.9M71.6 211.17h-1.9M103.63 233.6v1.9M71.6 209.81h-1.9M105.12 233.6v1.9M71.6 208.71h-1.9M106.38 233.6v1.9M71.6 207.77h-1.9M107.47 233.6v1.9M71.6 206.96h-1.9M108.44 233.6v1.9M71.6 206.24h-1.9M114.97 233.6v1.9M71.6 201.39h-1.9M118.29 233.6v1.9M71.6 198.92h-1.9M120.65 233.6v1.9M71.6 197.17h-1.9M122.48 233.6v1.9M71.6 195.81h-1.9M123.97 233.6v1.9M71.6 194.71h-1.9M125.23 233.6v1.9M71.6 193.77h-1.9M126.32 233.6v1.9M71.6 192.96h-1.9M127.29 233.6v1.9M71.6 192.24h-1.9M133.82 233.6v1.9M71.6 187.39h-1.9M137.14 233.6v1.9M71.6 184.92h-1.9M139.50 233.6v1.9M71.6 183.17h-1.9M141.33 233.6v1.9M71.6 181.81h-1.9M142.82 233.6v1.9M71.6 180.71h-1.9M144.08 233.6v1.9M71.6 179.77h-1.9M145.17 233.6v1.9M71.6 178.96h-1.9M146.14 233.6v1.9M71.6 178.24h-1.9" stroke="#222" stroke-width="0.6" fill="none"/>
<path d="M71.60 233.6v3.0M71.6 233.60h-3.0M90.45 233.6v3.0M71.6 219.60h-3.0M109.30 233.6v3.0M71.6 205.60h-3.0M128.15 233.6v3.0M71.6 191.60h-3.0M147 233.6v3.0M71.6 177.6h-3.0" stroke="#000" stroke-width="1.3" fill="none"/>
<text class="ls" transform="translate(67.00 246.10) scale(0.73 1)" font-size="8.4" fill="#000" stroke="#000" stroke-width="0.3">10<tspan dx="0.7" dy="-3.8" font-size="7.4">0</tspan></text>
<text class="ls" transform="translate(66.30 238.30) rotate(-90) scale(0.75 1)" font-size="7.6" fill="#000" stroke="#000" stroke-width="0.3">10<tspan dx="1" dy="-3.8" font-size="7">0</tspan></text>
<text class="ls" transform="translate(85.55 246.10) scale(0.73 1)" font-size="8.4" fill="#000" stroke="#000" stroke-width="0.3">10<tspan dx="0.7" dy="-3.8" font-size="7.4">1</tspan></text>
<text class="ls" transform="translate(66.30 224.50) rotate(-90) scale(0.75 1)" font-size="7.6" fill="#000" stroke="#000" stroke-width="0.3">10<tspan dx="1" dy="-3.8" font-size="7">1</tspan></text>
<text class="ls" transform="translate(104.40 246.10) scale(0.73 1)" font-size="8.4" fill="#000" stroke="#000" stroke-width="0.3">10<tspan dx="0.7" dy="-3.8" font-size="7.4">2</tspan></text>
<text class="ls" transform="translate(66.30 210.50) rotate(-90) scale(0.75 1)" font-size="7.6" fill="#000" stroke="#000" stroke-width="0.3">10<tspan dx="1" dy="-3.8" font-size="7">2</tspan></text>
<text class="ls" transform="translate(123.25 246.10) scale(0.73 1)" font-size="8.4" fill="#000" stroke="#000" stroke-width="0.3">10<tspan dx="0.7" dy="-3.8" font-size="7.4">3</tspan></text>
<text class="ls" transform="translate(66.30 196.50) rotate(-90) scale(0.75 1)" font-size="7.6" fill="#000" stroke="#000" stroke-width="0.3">10<tspan dx="1" dy="-3.8" font-size="7">3</tspan></text>
<text class="ls" transform="translate(142.10 246.10) scale(0.73 1)" font-size="8.4" fill="#000" stroke="#000" stroke-width="0.3">10<tspan dx="0.7" dy="-3.8" font-size="7.4">4</tspan></text>
<text class="ls" transform="translate(66.30 182.50) rotate(-90) scale(0.75 1)" font-size="7.6" fill="#000" stroke="#000" stroke-width="0.3">10<tspan dx="1" dy="-3.8" font-size="7">4</tspan></text>
<text class="ls" x="108.5" y="252.7" font-size="6.6" text-anchor="middle" fill="#000" stroke="#000" stroke-width="0.22" textLength="18" lengthAdjust="spacingAndGlyphs">FL4-H</text>
<text class="ls" x="57.199999999999996" y="207" font-size="6.8" text-anchor="middle" fill="#000" transform="rotate(-90 57.199999999999996 207)" stroke="#000" stroke-width="0.22" textLength="18" lengthAdjust="spacingAndGlyphs">CFSE</text>
<text class="ls" x="126.8" y="202.3" font-size="14.2" font-weight="bold" text-anchor="start" fill="#000">i</text>
<path d="M187 189h1v1h-1zM186 190h1v1h-1zM188 190h1v1h-1zM197 190h1v1h-1zM185 191h1v1h-1zM188 191h1v1h-1zM195 191h1v1h-1zM197 191h2v1h-2zM205 191h1v1h-1zM223 191h1v1h-1zM244 191h1v1h-1zM181 192h1v1h-1zM184 192h3v1h-3zM188 192h1v1h-1zM190 192h1v1h-1zM192 192h1v1h-1zM194 192h2v1h-2zM197 192h2v1h-2zM200 192h1v1h-1zM203 192h1v1h-1zM207 192h1v1h-1zM230 192h1v1h-1zM234 192h1v1h-1zM237 192h1v1h-1zM182 193h2v1h-2zM185 193h3v1h-3zM189 193h5v1h-5zM195 193h3v1h-3zM205 193h1v1h-1zM210 193h1v1h-1zM222 193h1v1h-1zM231 193h1v1h-1zM234 193h2v1h-2zM181 194h15v1h-15zM197 194h6v1h-6zM204 194h1v1h-1zM212 194h1v1h-1zM220 194h1v1h-1zM225 194h1v1h-1zM181 195h19v1h-19zM201 195h1v1h-1zM212 195h1v1h-1zM224 195h1v1h-1zM181 196h21v1h-21zM207 196h1v1h-1zM212 196h4v1h-4zM217 196h2v1h-2zM220 196h3v1h-3zM225 196h1v1h-1zM229 196h1v1h-1zM231 196h2v1h-2zM181 197h22v1h-22zM208 197h2v1h-2zM211 197h1v1h-1zM215 197h3v1h-3zM219 197h1v1h-1zM221 197h6v1h-6zM228 197h1v1h-1zM181 198h20v1h-20zM207 198h2v1h-2zM211 198h6v1h-6zM218 198h3v1h-3zM222 198h5v1h-5zM181 199h19v1h-19zM204 199h3v1h-3zM208 199h2v1h-2zM211 199h6v1h-6zM218 199h2v1h-2zM221 199h2v1h-2zM226 199h2v1h-2zM230 199h1v1h-1zM181 200h21v1h-21zM204 200h3v1h-3zM208 200h1v1h-1zM210 200h9v1h-9zM221 200h1v1h-1zM229 200h1v1h-1zM181 201h19v1h-19zM201 201h14v1h-14zM222 201h2v1h-2zM229 201h1v1h-1zM234 201h1v1h-1zM181 202h29v1h-29zM211 202h4v1h-4zM217 202h1v1h-1zM219 202h1v1h-1zM181 203h20v1h-20zM202 203h2v1h-2zM205 203h1v1h-1zM209 203h1v1h-1zM211 203h2v1h-2zM215 203h1v1h-1zM217 203h1v1h-1zM220 203h1v1h-1zM225 203h1v1h-1zM228 203h1v1h-1zM244 203h1v1h-1zM253 203h1v1h-1zM181 204h21v1h-21zM203 204h6v1h-6zM211 204h2v1h-2zM181 205h16v1h-16zM198 205h2v1h-2zM201 205h4v1h-4zM211 205h1v1h-1zM216 205h1v1h-1zM221 205h1v1h-1zM181 206h19v1h-19zM202 206h1v1h-1zM205 206h1v1h-1zM207 206h3v1h-3zM212 206h2v1h-2zM218 206h1v1h-1zM252 206h1v1h-1zM181 207h16v1h-16zM198 207h1v1h-1zM200 207h1v1h-1zM203 207h2v1h-2zM209 207h3v1h-3zM213 207h1v1h-1zM217 207h1v1h-1zM219 207h1v1h-1zM181 208h16v1h-16zM199 208h4v1h-4zM207 208h2v1h-2zM212 208h1v1h-1zM214 208h1v1h-1zM229 208h1v1h-1zM238 208h2v1h-2zM181 209h19v1h-19zM202 209h1v1h-1zM204 209h2v1h-2zM207 209h1v1h-1zM212 209h2v1h-2zM215 209h1v1h-1zM222 209h1v1h-1zM227 209h1v1h-1zM230 209h1v1h-1zM234 209h1v1h-1zM250 209h1v1h-1zM181 210h3v1h-3zM185 210h11v1h-11zM197 210h1v1h-1zM199 210h1v1h-1zM202 210h2v1h-2zM210 210h1v1h-1zM218 210h1v1h-1zM228 210h1v1h-1zM181 211h17v1h-17zM199 211h3v1h-3zM206 211h3v1h-3zM218 211h1v1h-1zM220 211h1v1h-1zM250 211h1v1h-1zM181 212h20v1h-20zM213 212h1v1h-1zM215 212h1v1h-1zM217 212h1v1h-1zM232 212h1v1h-1zM181 213h21v1h-21zM203 213h3v1h-3zM208 213h1v1h-1zM210 213h1v1h-1zM219 213h1v1h-1zM181 214h21v1h-21zM203 214h3v1h-3zM209 214h2v1h-2zM221 214h1v1h-1zM242 214h1v1h-1zM246 214h1v1h-1zM181 215h28v1h-28zM211 215h2v1h-2zM216 215h1v1h-1zM219 215h1v1h-1zM225 215h1v1h-1zM227 215h1v1h-1zM231 215h1v1h-1zM241 215h1v1h-1zM181 216h27v1h-27zM210 216h1v1h-1zM214 216h1v1h-1zM217 216h2v1h-2zM220 216h1v1h-1zM230 216h1v1h-1zM241 216h1v1h-1zM181 217h26v1h-26zM208 217h1v1h-1zM220 217h1v1h-1zM250 217h1v1h-1zM181 218h24v1h-24zM206 218h1v1h-1zM208 218h2v1h-2zM212 218h4v1h-4zM224 218h1v1h-1zM244 218h1v1h-1zM181 219h23v1h-23zM206 219h2v1h-2zM209 219h1v1h-1zM217 219h2v1h-2zM228 219h1v1h-1zM230 219h1v1h-1zM181 220h28v1h-28zM210 220h4v1h-4zM215 220h1v1h-1zM217 220h2v1h-2zM221 220h2v1h-2zM230 220h1v1h-1zM234 220h1v1h-1zM238 220h1v1h-1zM181 221h25v1h-25zM207 221h1v1h-1zM209 221h4v1h-4zM214 221h1v1h-1zM216 221h2v1h-2zM219 221h1v1h-1zM221 221h2v1h-2zM231 221h2v1h-2zM237 221h1v1h-1zM244 221h1v1h-1zM181 222h21v1h-21zM205 222h1v1h-1zM207 222h1v1h-1zM209 222h1v1h-1zM211 222h1v1h-1zM215 222h1v1h-1zM221 222h1v1h-1zM223 222h1v1h-1zM230 222h3v1h-3zM238 222h1v1h-1zM181 223h25v1h-25zM207 223h2v1h-2zM212 223h3v1h-3zM216 223h1v1h-1zM218 223h1v1h-1zM220 223h2v1h-2zM225 223h1v1h-1zM227 223h1v1h-1zM237 223h1v1h-1zM257 223h1v1h-1zM181 224h26v1h-26zM208 224h1v1h-1zM210 224h1v1h-1zM212 224h2v1h-2zM217 224h1v1h-1zM220 224h2v1h-2zM223 224h1v1h-1zM229 224h2v1h-2zM238 224h2v1h-2zM257 224h1v1h-1zM181 225h24v1h-24zM206 225h1v1h-1zM208 225h1v1h-1zM210 225h1v1h-1zM213 225h2v1h-2zM218 225h1v1h-1zM222 225h1v1h-1zM226 225h1v1h-1zM229 225h1v1h-1zM232 225h1v1h-1zM239 225h3v1h-3zM252 225h2v1h-2zM181 226h25v1h-25zM207 226h1v1h-1zM209 226h1v1h-1zM211 226h2v1h-2zM221 226h3v1h-3zM226 226h1v1h-1zM228 226h1v1h-1zM236 226h1v1h-1zM244 226h1v1h-1zM246 226h1v1h-1zM257 226h1v1h-1zM181 227h25v1h-25zM207 227h1v1h-1zM209 227h4v1h-4zM216 227h1v1h-1zM218 227h2v1h-2zM223 227h1v1h-1zM226 227h1v1h-1zM229 227h1v1h-1zM231 227h1v1h-1zM236 227h1v1h-1zM240 227h1v1h-1zM242 227h1v1h-1zM248 227h2v1h-2zM251 227h1v1h-1zM254 227h1v1h-1zM256 227h1v1h-1zM181 228h25v1h-25zM209 228h1v1h-1zM213 228h4v1h-4zM219 228h1v1h-1zM223 228h2v1h-2zM228 228h1v1h-1zM236 228h1v1h-1zM238 228h1v1h-1zM240 228h1v1h-1zM257 228h1v1h-1zM181 229h28v1h-28zM210 229h4v1h-4zM216 229h3v1h-3zM221 229h3v1h-3zM234 229h1v1h-1zM239 229h2v1h-2zM248 229h1v1h-1zM251 229h1v1h-1zM254 229h1v1h-1zM181 230h24v1h-24zM207 230h3v1h-3zM212 230h2v1h-2zM215 230h1v1h-1zM218 230h1v1h-1zM221 230h2v1h-2zM227 230h1v1h-1zM229 230h2v1h-2zM233 230h1v1h-1zM243 230h1v1h-1zM245 230h1v1h-1zM247 230h1v1h-1zM250 230h3v1h-3zM181 231h27v1h-27zM213 231h1v1h-1zM215 231h1v1h-1zM218 231h1v1h-1zM220 231h3v1h-3zM227 231h1v1h-1zM230 231h1v1h-1zM232 231h1v1h-1zM234 231h1v1h-1zM236 231h1v1h-1zM239 231h1v1h-1zM248 231h1v1h-1zM251 231h2v1h-2zM181 232h24v1h-24zM206 232h4v1h-4zM212 232h3v1h-3zM219 232h1v1h-1zM221 232h1v1h-1zM224 232h1v1h-1zM234 232h1v1h-1zM241 232h1v1h-1zM251 232h2v1h-2zM181 233h25v1h-25zM207 233h2v1h-2zM211 233h1v1h-1zM213 233h1v1h-1zM216 233h1v1h-1zM218 233h1v1h-1zM229 233h1v1h-1zM231 233h3v1h-3zM235 233h1v1h-1zM239 233h1v1h-1zM242 233h1v1h-1zM245 233h1v1h-1zM250 233h2v1h-2zM253 233h1v1h-1zM181 234h25v1h-25zM207 234h1v1h-1zM213 234h1v1h-1zM215 234h3v1h-3zM219 234h1v1h-1zM223 234h1v1h-1zM226 234h2v1h-2zM230 234h1v1h-1zM247 234h2v1h-2z" fill="#878787" filter="url(#bl)"/>
<path d="M181.4 177.6H256.3V233.6" fill="none" stroke="#1a1a1a" stroke-width="1.05"/>
<path d="M181.4 177.2V233.6H256.7" fill="none" stroke="#111" stroke-width="1.15"/>
<path d="M187.04 233.6v1.9M181.4 229.39h-1.9M190.33 233.6v1.9M181.4 226.92h-1.9M192.67 233.6v1.9M181.4 225.17h-1.9M194.49 233.6v1.9M181.4 223.81h-1.9M195.97 233.6v1.9M181.4 222.71h-1.9M197.22 233.6v1.9M181.4 221.77h-1.9M198.31 233.6v1.9M181.4 220.96h-1.9M199.27 233.6v1.9M181.4 220.24h-1.9M205.76 233.6v1.9M181.4 215.39h-1.9M209.06 233.6v1.9M181.4 212.92h-1.9M211.40 233.6v1.9M181.4 211.17h-1.9M213.21 233.6v1.9M181.4 209.81h-1.9M214.70 233.6v1.9M181.4 208.71h-1.9M215.95 233.6v1.9M181.4 207.77h-1.9M217.04 233.6v1.9M181.4 206.96h-1.9M217.99 233.6v1.9M181.4 206.24h-1.9M224.49 233.6v1.9M181.4 201.39h-1.9M227.78 233.6v1.9M181.4 198.92h-1.9M230.12 233.6v1.9M181.4 197.17h-1.9M231.94 233.6v1.9M181.4 195.81h-1.9M233.42 233.6v1.9M181.4 194.71h-1.9M234.67 233.6v1.9M181.4 193.77h-1.9M235.76 233.6v1.9M181.4 192.96h-1.9M236.72 233.6v1.9M181.4 192.24h-1.9M243.21 233.6v1.9M181.4 187.39h-1.9M246.51 233.6v1.9M181.4 184.92h-1.9M248.85 233.6v1.9M181.4 183.17h-1.9M250.66 233.6v1.9M181.4 181.81h-1.9M252.15 233.6v1.9M181.4 180.71h-1.9M253.40 233.6v1.9M181.4 179.77h-1.9M254.49 233.6v1.9M181.4 178.96h-1.9M255.44 233.6v1.9M181.4 178.24h-1.9" stroke="#222" stroke-width="0.6" fill="none"/>
<path d="M181.40 233.6v3.0M181.4 233.60h-3.0M200.12 233.6v3.0M181.4 219.60h-3.0M218.85 233.6v3.0M181.4 205.60h-3.0M237.58 233.6v3.0M181.4 191.60h-3.0M256.3 233.6v3.0M181.4 177.6h-3.0" stroke="#000" stroke-width="1.3" fill="none"/>
<text class="ls" transform="translate(176.80 246.10) scale(0.73 1)" font-size="8.4" fill="#000" stroke="#000" stroke-width="0.3">10<tspan dx="0.7" dy="-3.8" font-size="7.4">0</tspan></text>
<text class="ls" transform="translate(176.10 238.30) rotate(-90) scale(0.75 1)" font-size="7.6" fill="#000" stroke="#000" stroke-width="0.3">10<tspan dx="1" dy="-3.8" font-size="7">0</tspan></text>
<text class="ls" transform="translate(195.22 246.10) scale(0.73 1)" font-size="8.4" fill="#000" stroke="#000" stroke-width="0.3">10<tspan dx="0.7" dy="-3.8" font-size="7.4">1</tspan></text>
<text class="ls" transform="translate(176.10 224.50) rotate(-90) scale(0.75 1)" font-size="7.6" fill="#000" stroke="#000" stroke-width="0.3">10<tspan dx="1" dy="-3.8" font-size="7">1</tspan></text>
<text class="ls" transform="translate(213.95 246.10) scale(0.73 1)" font-size="8.4" fill="#000" stroke="#000" stroke-width="0.3">10<tspan dx="0.7" dy="-3.8" font-size="7.4">2</tspan></text>
<text class="ls" transform="translate(176.10 210.50) rotate(-90) scale(0.75 1)" font-size="7.6" fill="#000" stroke="#000" stroke-width="0.3">10<tspan dx="1" dy="-3.8" font-size="7">2</tspan></text>
<text class="ls" transform="translate(232.68 246.10) scale(0.73 1)" font-size="8.4" fill="#000" stroke="#000" stroke-width="0.3">10<tspan dx="0.7" dy="-3.8" font-size="7.4">3</tspan></text>
<text class="ls" transform="translate(176.10 196.50) rotate(-90) scale(0.75 1)" font-size="7.6" fill="#000" stroke="#000" stroke-width="0.3">10<tspan dx="1" dy="-3.8" font-size="7">3</tspan></text>
<text class="ls" transform="translate(251.40 246.10) scale(0.73 1)" font-size="8.4" fill="#000" stroke="#000" stroke-width="0.3">10<tspan dx="0.7" dy="-3.8" font-size="7.4">4</tspan></text>
<text class="ls" transform="translate(176.10 182.50) rotate(-90) scale(0.75 1)" font-size="7.6" fill="#000" stroke="#000" stroke-width="0.3">10<tspan dx="1" dy="-3.8" font-size="7">4</tspan></text>
<text class="ls" x="217.35000000000002" y="252.7" font-size="6.6" text-anchor="middle" fill="#000" stroke="#000" stroke-width="0.22" textLength="50" lengthAdjust="spacingAndGlyphs">Db-Uty Tetramer</text>
<text class="ls" x="167.0" y="207" font-size="6.8" text-anchor="middle" fill="#000" transform="rotate(-90 167.0 207)" stroke="#000" stroke-width="0.22" textLength="35" lengthAdjust="spacingAndGlyphs">CD8-PerCP</text>
<text class="ls" x="239.4" y="202.6" font-size="14.2" font-weight="bold" text-anchor="start" fill="#000" textLength="7" lengthAdjust="spacingAndGlyphs">ii</text>
<path d="M303 184h1v1h-1zM305 184h1v1h-1zM308 184h1v1h-1zM311 184h1v1h-1zM313 184h1v1h-1zM320 184h1v1h-1zM304 185h16v1h-16zM321 185h2v1h-2zM303 186h21v1h-21zM303 187h21v1h-21zM303 188h19v1h-19zM323 188h3v1h-3zM304 189h10v1h-10zM315 189h6v1h-6zM322 189h1v1h-1zM304 190h2v1h-2zM307 190h3v1h-3zM313 190h3v1h-3zM317 190h1v1h-1zM319 190h1v1h-1zM322 190h1v1h-1zM303 191h1v1h-1zM306 191h2v1h-2zM310 191h1v1h-1zM315 191h3v1h-3zM314 192h1v1h-1zM316 192h1v1h-1zM323 192h1v1h-1zM303 193h1v1h-1zM308 193h2v1h-2zM314 193h1v1h-1zM316 193h2v1h-2zM304 194h2v1h-2zM308 194h1v1h-1zM310 194h1v1h-1zM312 194h3v1h-3zM316 194h1v1h-1zM323 194h1v1h-1zM303 195h2v1h-2zM306 195h1v1h-1zM308 195h1v1h-1zM317 195h1v1h-1zM321 195h1v1h-1zM304 196h2v1h-2zM312 196h2v1h-2zM337 196h1v1h-1zM303 197h4v1h-4zM308 197h1v1h-1zM304 198h1v1h-1zM306 198h1v1h-1zM308 198h1v1h-1zM314 198h1v1h-1zM304 199h1v1h-1zM308 199h1v1h-1zM311 199h1v1h-1zM320 199h1v1h-1zM304 200h2v1h-2zM307 200h3v1h-3zM314 200h1v1h-1zM318 200h1v1h-1zM320 200h1v1h-1zM306 201h1v1h-1zM309 201h1v1h-1zM311 201h1v1h-1zM317 201h1v1h-1zM320 201h1v1h-1zM303 202h4v1h-4zM310 202h2v1h-2zM313 202h4v1h-4zM319 202h1v1h-1zM343 202h1v1h-1zM303 203h4v1h-4zM308 203h4v1h-4zM313 203h3v1h-3zM317 203h2v1h-2zM323 203h2v1h-2zM303 204h10v1h-10zM314 204h6v1h-6zM321 204h1v1h-1zM303 205h19v1h-19zM329 205h1v1h-1zM303 206h10v1h-10zM314 206h7v1h-7zM322 206h2v1h-2zM303 207h19v1h-19zM348 207h1v1h-1zM303 208h17v1h-17zM321 208h3v1h-3zM327 208h1v1h-1zM340 208h1v1h-1zM303 209h18v1h-18zM322 209h3v1h-3zM326 209h1v1h-1zM329 209h1v1h-1zM342 209h1v1h-1zM304 210h2v1h-2zM307 210h1v1h-1zM309 210h3v1h-3zM314 210h2v1h-2zM317 210h3v1h-3zM321 210h2v1h-2zM339 210h1v1h-1zM303 211h2v1h-2zM306 211h3v1h-3zM310 211h17v1h-17zM332 211h1v1h-1zM303 212h20v1h-20zM324 212h3v1h-3zM328 212h1v1h-1zM330 212h1v1h-1zM341 212h1v1h-1zM303 213h26v1h-26zM341 213h1v1h-1zM303 214h23v1h-23zM336 214h1v1h-1zM303 215h21v1h-21zM325 215h2v1h-2zM329 215h1v1h-1zM338 215h1v1h-1zM303 216h21v1h-21zM325 216h1v1h-1zM331 216h1v1h-1zM339 216h1v1h-1zM303 217h23v1h-23zM330 217h2v1h-2zM337 217h1v1h-1zM303 218h24v1h-24zM329 218h2v1h-2zM340 218h1v1h-1zM303 219h23v1h-23zM332 219h1v1h-1zM303 220h26v1h-26zM303 221h24v1h-24zM328 221h1v1h-1zM330 221h1v1h-1zM303 222h22v1h-22zM326 222h2v1h-2zM329 222h2v1h-2zM303 223h26v1h-26zM332 223h1v1h-1zM342 223h1v1h-1zM303 224h24v1h-24zM330 224h1v1h-1zM303 225h24v1h-24zM329 225h2v1h-2zM303 226h23v1h-23zM329 226h1v1h-1zM303 227h24v1h-24zM331 227h1v1h-1zM303 228h26v1h-26zM303 229h24v1h-24zM303 230h25v1h-25zM329 230h1v1h-1zM331 230h1v1h-1zM303 231h21v1h-21zM325 231h2v1h-2zM303 232h25v1h-25zM332 232h1v1h-1zM337 232h1v1h-1zM303 233h22v1h-22zM326 233h1v1h-1zM328 233h1v1h-1zM303 234h11v1h-11zM315 234h14v1h-14z" fill="#878787" filter="url(#bl)"/>
<path d="M303.8 177.6H379.4V233.6" fill="none" stroke="#1a1a1a" stroke-width="1.05"/>
<path d="M303.8 177.2V233.6H379.79999999999995" fill="none" stroke="#111" stroke-width="1.15"/>
<path d="M309.49 233.6v1.9M303.8 229.39h-1.9M312.82 233.6v1.9M303.8 226.92h-1.9M315.18 233.6v1.9M303.8 225.17h-1.9M317.01 233.6v1.9M303.8 223.81h-1.9M318.51 233.6v1.9M303.8 222.71h-1.9M319.77 233.6v1.9M303.8 221.77h-1.9M320.87 233.6v1.9M303.8 220.96h-1.9M321.84 233.6v1.9M303.8 220.24h-1.9M328.39 233.6v1.9M303.8 215.39h-1.9M331.72 233.6v1.9M303.8 212.92h-1.9M334.08 233.6v1.9M303.8 211.17h-1.9M335.91 233.6v1.9M303.8 209.81h-1.9M337.41 233.6v1.9M303.8 208.71h-1.9M338.67 233.6v1.9M303.8 207.77h-1.9M339.77 233.6v1.9M303.8 206.96h-1.9M340.74 233.6v1.9M303.8 206.24h-1.9M347.29 233.6v1.9M303.8 201.39h-1.9M350.62 233.6v1.9M303.8 198.92h-1.9M352.98 233.6v1.9M303.8 197.17h-1.9M354.81 233.6v1.9M303.8 195.81h-1.9M356.31 233.6v1.9M303.8 194.71h-1.9M357.57 233.6v1.9M303.8 193.77h-1.9M358.67 233.6v1.9M303.8 192.96h-1.9M359.64 233.6v1.9M303.8 192.24h-1.9M366.19 233.6v1.9M303.8 187.39h-1.9M369.52 233.6v1.9M303.8 184.92h-1.9M371.88 233.6v1.9M303.8 183.17h-1.9M373.71 233.6v1.9M303.8 181.81h-1.9M375.21 233.6v1.9M303.8 180.71h-1.9M376.47 233.6v1.9M303.8 179.77h-1.9M377.57 233.6v1.9M303.8 178.96h-1.9M378.54 233.6v1.9M303.8 178.24h-1.9" stroke="#222" stroke-width="0.6" fill="none"/>
<path d="M303.80 233.6v3.0M303.8 233.60h-3.0M322.70 233.6v3.0M303.8 219.60h-3.0M341.60 233.6v3.0M303.8 205.60h-3.0M360.50 233.6v3.0M303.8 191.60h-3.0M379.4 233.6v3.0M303.8 177.6h-3.0" stroke="#000" stroke-width="1.3" fill="none"/>
<text class="ls" transform="translate(299.20 246.10) scale(0.73 1)" font-size="8.4" fill="#000" stroke="#000" stroke-width="0.3">10<tspan dx="0.7" dy="-3.8" font-size="7.4">0</tspan></text>
<text class="ls" transform="translate(298.50 238.30) rotate(-90) scale(0.75 1)" font-size="7.6" fill="#000" stroke="#000" stroke-width="0.3">10<tspan dx="1" dy="-3.8" font-size="7">0</tspan></text>
<text class="ls" transform="translate(317.80 246.10) scale(0.73 1)" font-size="8.4" fill="#000" stroke="#000" stroke-width="0.3">10<tspan dx="0.7" dy="-3.8" font-size="7.4">1</tspan></text>
<text class="ls" transform="translate(298.50 224.50) rotate(-90) scale(0.75 1)" font-size="7.6" fill="#000" stroke="#000" stroke-width="0.3">10<tspan dx="1" dy="-3.8" font-size="7">1</tspan></text>
<text class="ls" transform="translate(336.70 246.10) scale(0.73 1)" font-size="8.4" fill="#000" stroke="#000" stroke-width="0.3">10<tspan dx="0.7" dy="-3.8" font-size="7.4">2</tspan></text>
<text class="ls" transform="translate(298.50 210.50) rotate(-90) scale(0.75 1)" font-size="7.6" fill="#000" stroke="#000" stroke-width="0.3">10<tspan dx="1" dy="-3.8" font-size="7">2</tspan></text>
<text class="ls" transform="translate(355.60 246.10) scale(0.73 1)" font-size="8.4" fill="#000" stroke="#000" stroke-width="0.3">10<tspan dx="0.7" dy="-3.8" font-size="7.4">3</tspan></text>
<text class="ls" transform="translate(298.50 196.50) rotate(-90) scale(0.75 1)" font-size="7.6" fill="#000" stroke="#000" stroke-width="0.3">10<tspan dx="1" dy="-3.8" font-size="7">3</tspan></text>
<text class="ls" transform="translate(374.50 246.10) scale(0.73 1)" font-size="8.4" fill="#000" stroke="#000" stroke-width="0.3">10<tspan dx="0.7" dy="-3.8" font-size="7.4">4</tspan></text>
<text class="ls" transform="translate(298.50 182.50) rotate(-90) scale(0.75 1)" font-size="7.6" fill="#000" stroke="#000" stroke-width="0.3">10<tspan dx="1" dy="-3.8" font-size="7">4</tspan></text>
<text class="ls" x="340.90000000000003" y="252.7" font-size="6.6" text-anchor="middle" fill="#000" stroke="#000" stroke-width="0.22" textLength="18" lengthAdjust="spacingAndGlyphs">FL4-H</text>
<text class="ls" x="289.40000000000003" y="206.6" font-size="6.8" text-anchor="middle" fill="#000" transform="rotate(-90 289.40000000000003 206.6)" stroke="#000" stroke-width="0.22" textLength="18" lengthAdjust="spacingAndGlyphs">CFSE</text>
<text class="ls" x="357.4" y="202.4" font-size="14.2" font-weight="bold" text-anchor="start" fill="#000" textLength="10.4" lengthAdjust="spacingAndGlyphs">iii</text>
<path d="M479 182h1v1h-1zM436 183h1v1h-1zM429 185h1v1h-1zM431 188h1v1h-1zM425 189h1v1h-1zM480 189h1v1h-1zM418 190h1v1h-1zM427 190h2v1h-2zM433 190h2v1h-2zM417 191h3v1h-3zM422 191h3v1h-3zM426 191h2v1h-2zM414 192h2v1h-2zM417 192h7v1h-7zM425 192h6v1h-6zM432 192h2v1h-2zM415 193h1v1h-1zM419 193h3v1h-3zM423 193h2v1h-2zM427 193h2v1h-2zM430 193h5v1h-5zM439 193h1v1h-1zM414 194h21v1h-21zM436 194h1v1h-1zM480 194h1v1h-1zM414 195h8v1h-8zM423 195h13v1h-13zM437 195h1v1h-1zM439 195h2v1h-2zM414 196h19v1h-19zM434 196h2v1h-2zM439 196h1v1h-1zM414 197h23v1h-23zM414 198h8v1h-8zM423 198h11v1h-11zM435 198h1v1h-1zM437 198h3v1h-3zM414 199h22v1h-22zM414 200h10v1h-10zM425 200h11v1h-11zM438 200h1v1h-1zM478 200h1v1h-1zM480 200h1v1h-1zM414 201h4v1h-4zM419 201h16v1h-16zM436 201h1v1h-1zM439 201h1v1h-1zM414 202h24v1h-24zM414 203h10v1h-10zM425 203h11v1h-11zM437 203h2v1h-2zM440 203h1v1h-1zM414 204h20v1h-20zM436 204h1v1h-1zM438 204h2v1h-2zM414 205h19v1h-19zM435 205h1v1h-1zM414 206h23v1h-23zM439 206h1v1h-1zM414 207h20v1h-20zM453 207h1v1h-1zM414 208h18v1h-18zM440 208h1v1h-1zM414 209h16v1h-16zM431 209h3v1h-3zM435 209h1v1h-1zM414 210h19v1h-19zM458 210h1v1h-1zM460 210h1v1h-1zM414 211h3v1h-3zM418 211h15v1h-15zM435 211h1v1h-1zM442 211h2v1h-2zM450 211h1v1h-1zM458 211h1v1h-1zM487 211h1v1h-1zM414 212h24v1h-24zM439 212h1v1h-1zM441 212h1v1h-1zM451 212h2v1h-2zM460 212h1v1h-1zM473 212h1v1h-1zM414 213h27v1h-27zM442 213h2v1h-2zM451 213h1v1h-1zM471 213h2v1h-2zM484 213h1v1h-1zM414 214h28v1h-28zM443 214h1v1h-1zM445 214h3v1h-3zM455 214h1v1h-1zM458 214h1v1h-1zM414 215h30v1h-30zM448 215h1v1h-1zM450 215h2v1h-2zM459 215h1v1h-1zM462 215h1v1h-1zM466 215h1v1h-1zM469 215h1v1h-1zM475 215h1v1h-1zM487 215h1v1h-1zM414 216h30v1h-30zM446 216h1v1h-1zM453 216h1v1h-1zM461 216h1v1h-1zM414 217h31v1h-31zM446 217h1v1h-1zM449 217h1v1h-1zM456 217h1v1h-1zM469 217h1v1h-1zM473 217h1v1h-1zM483 217h1v1h-1zM414 218h30v1h-30zM448 218h1v1h-1zM450 218h1v1h-1zM456 218h1v1h-1zM464 218h2v1h-2zM487 218h1v1h-1zM414 219h29v1h-29zM446 219h1v1h-1zM448 219h1v1h-1zM452 219h1v1h-1zM459 219h1v1h-1zM463 219h1v1h-1zM467 219h1v1h-1zM469 219h1v1h-1zM473 219h1v1h-1zM475 219h1v1h-1zM486 219h1v1h-1zM414 220h29v1h-29zM444 220h3v1h-3zM453 220h2v1h-2zM457 220h1v1h-1zM461 220h1v1h-1zM465 220h1v1h-1zM479 220h2v1h-2zM414 221h28v1h-28zM443 221h2v1h-2zM449 221h3v1h-3zM453 221h2v1h-2zM463 221h2v1h-2zM468 221h1v1h-1zM476 221h1v1h-1zM414 222h28v1h-28zM443 222h1v1h-1zM447 222h4v1h-4zM454 222h2v1h-2zM457 222h1v1h-1zM459 222h2v1h-2zM468 222h1v1h-1zM414 223h28v1h-28zM443 223h1v1h-1zM445 223h4v1h-4zM453 223h1v1h-1zM460 223h1v1h-1zM466 223h4v1h-4zM474 223h1v1h-1zM481 223h1v1h-1zM485 223h2v1h-2zM414 224h31v1h-31zM446 224h2v1h-2zM451 224h1v1h-1zM453 224h1v1h-1zM455 224h3v1h-3zM459 224h1v1h-1zM461 224h1v1h-1zM464 224h1v1h-1zM467 224h1v1h-1zM475 224h1v1h-1zM478 224h1v1h-1zM484 224h1v1h-1zM490 224h1v1h-1zM414 225h31v1h-31zM448 225h4v1h-4zM453 225h2v1h-2zM456 225h2v1h-2zM459 225h2v1h-2zM462 225h1v1h-1zM466 225h2v1h-2zM414 226h14v1h-14zM429 226h19v1h-19zM457 226h2v1h-2zM460 226h1v1h-1zM464 226h3v1h-3zM468 226h1v1h-1zM470 226h2v1h-2zM414 227h32v1h-32zM447 227h4v1h-4zM453 227h1v1h-1zM456 227h1v1h-1zM458 227h1v1h-1zM463 227h2v1h-2zM466 227h1v1h-1zM469 227h1v1h-1zM472 227h1v1h-1zM477 227h1v1h-1zM483 227h1v1h-1zM487 227h1v1h-1zM414 228h23v1h-23zM438 228h4v1h-4zM443 228h5v1h-5zM451 228h1v1h-1zM453 228h1v1h-1zM455 228h1v1h-1zM457 228h1v1h-1zM459 228h1v1h-1zM461 228h1v1h-1zM471 228h1v1h-1zM476 228h2v1h-2zM414 229h33v1h-33zM448 229h4v1h-4zM454 229h2v1h-2zM458 229h1v1h-1zM460 229h4v1h-4zM465 229h2v1h-2zM468 229h1v1h-1zM470 229h2v1h-2zM473 229h2v1h-2zM483 229h1v1h-1zM489 229h1v1h-1zM414 230h30v1h-30zM445 230h7v1h-7zM453 230h6v1h-6zM462 230h2v1h-2zM469 230h1v1h-1zM473 230h1v1h-1zM414 231h33v1h-33zM452 231h2v1h-2zM457 231h1v1h-1zM459 231h2v1h-2zM465 231h1v1h-1zM468 231h1v1h-1zM473 231h2v1h-2zM478 231h1v1h-1zM481 231h1v1h-1zM486 231h1v1h-1zM414 232h34v1h-34zM449 232h4v1h-4zM457 232h1v1h-1zM460 232h2v1h-2zM464 232h3v1h-3zM468 232h1v1h-1zM471 232h3v1h-3zM482 232h1v1h-1zM414 233h35v1h-35zM450 233h4v1h-4zM455 233h2v1h-2zM460 233h4v1h-4zM465 233h1v1h-1zM467 233h2v1h-2zM476 233h1v1h-1zM478 233h1v1h-1zM414 234h1v1h-1zM416 234h27v1h-27zM444 234h4v1h-4zM449 234h2v1h-2zM453 234h1v1h-1zM456 234h3v1h-3zM463 234h1v1h-1zM470 234h1v1h-1zM479 234h1v1h-1zM482 234h1v1h-1zM489 234h1v1h-1z" fill="#878787" filter="url(#bl)"/>
<path d="M414.6 177.6H489.6V233.6" fill="none" stroke="#1a1a1a" stroke-width="1.05"/>
<path d="M414.6 177.2V233.6H490.0" fill="none" stroke="#111" stroke-width="1.15"/>
<path d="M420.24 233.6v1.9M414.6 229.39h-1.9M423.55 233.6v1.9M414.6 226.92h-1.9M425.89 233.6v1.9M414.6 225.17h-1.9M427.71 233.6v1.9M414.6 223.81h-1.9M429.19 233.6v1.9M414.6 222.71h-1.9M430.45 233.6v1.9M414.6 221.77h-1.9M431.53 233.6v1.9M414.6 220.96h-1.9M432.49 233.6v1.9M414.6 220.24h-1.9M438.99 233.6v1.9M414.6 215.39h-1.9M442.30 233.6v1.9M414.6 212.92h-1.9M444.64 233.6v1.9M414.6 211.17h-1.9M446.46 233.6v1.9M414.6 209.81h-1.9M447.94 233.6v1.9M414.6 208.71h-1.9M449.20 233.6v1.9M414.6 207.77h-1.9M450.28 233.6v1.9M414.6 206.96h-1.9M451.24 233.6v1.9M414.6 206.24h-1.9M457.74 233.6v1.9M414.6 201.39h-1.9M461.05 233.6v1.9M414.6 198.92h-1.9M463.39 233.6v1.9M414.6 197.17h-1.9M465.21 233.6v1.9M414.6 195.81h-1.9M466.69 233.6v1.9M414.6 194.71h-1.9M467.95 233.6v1.9M414.6 193.77h-1.9M469.03 233.6v1.9M414.6 192.96h-1.9M469.99 233.6v1.9M414.6 192.24h-1.9M476.49 233.6v1.9M414.6 187.39h-1.9M479.80 233.6v1.9M414.6 184.92h-1.9M482.14 233.6v1.9M414.6 183.17h-1.9M483.96 233.6v1.9M414.6 181.81h-1.9M485.44 233.6v1.9M414.6 180.71h-1.9M486.70 233.6v1.9M414.6 179.77h-1.9M487.78 233.6v1.9M414.6 178.96h-1.9M488.74 233.6v1.9M414.6 178.24h-1.9" stroke="#222" stroke-width="0.6" fill="none"/>
<path d="M414.60 233.6v3.0M414.6 233.60h-3.0M433.35 233.6v3.0M414.6 219.60h-3.0M452.10 233.6v3.0M414.6 205.60h-3.0M470.85 233.6v3.0M414.6 191.60h-3.0M489.6 233.6v3.0M414.6 177.6h-3.0" stroke="#000" stroke-width="1.3" fill="none"/>
<text class="ls" transform="translate(410.00 246.10) scale(0.73 1)" font-size="8.4" fill="#000" stroke="#000" stroke-width="0.3">10<tspan dx="0.7" dy="-3.8" font-size="7.4">0</tspan></text>
<text class="ls" transform="translate(409.30 238.30) rotate(-90) scale(0.75 1)" font-size="7.6" fill="#000" stroke="#000" stroke-width="0.3">10<tspan dx="1" dy="-3.8" font-size="7">0</tspan></text>
<text class="ls" transform="translate(428.45 246.10) scale(0.73 1)" font-size="8.4" fill="#000" stroke="#000" stroke-width="0.3">10<tspan dx="0.7" dy="-3.8" font-size="7.4">1</tspan></text>
<text class="ls" transform="translate(409.30 224.50) rotate(-90) scale(0.75 1)" font-size="7.6" fill="#000" stroke="#000" stroke-width="0.3">10<tspan dx="1" dy="-3.8" font-size="7">1</tspan></text>
<text class="ls" transform="translate(447.20 246.10) scale(0.73 1)" font-size="8.4" fill="#000" stroke="#000" stroke-width="0.3">10<tspan dx="0.7" dy="-3.8" font-size="7.4">2</tspan></text>
<text class="ls" transform="translate(409.30 210.50) rotate(-90) scale(0.75 1)" font-size="7.6" fill="#000" stroke="#000" stroke-width="0.3">10<tspan dx="1" dy="-3.8" font-size="7">2</tspan></text>
<text class="ls" transform="translate(465.95 246.10) scale(0.73 1)" font-size="8.4" fill="#000" stroke="#000" stroke-width="0.3">10<tspan dx="0.7" dy="-3.8" font-size="7.4">3</tspan></text>
<text class="ls" transform="translate(409.30 196.50) rotate(-90) scale(0.75 1)" font-size="7.6" fill="#000" stroke="#000" stroke-width="0.3">10<tspan dx="1" dy="-3.8" font-size="7">3</tspan></text>
<text class="ls" transform="translate(484.70 246.10) scale(0.73 1)" font-size="8.4" fill="#000" stroke="#000" stroke-width="0.3">10<tspan dx="0.7" dy="-3.8" font-size="7.4">4</tspan></text>
<text class="ls" transform="translate(409.30 182.50) rotate(-90) scale(0.75 1)" font-size="7.6" fill="#000" stroke="#000" stroke-width="0.3">10<tspan dx="1" dy="-3.8" font-size="7">4</tspan></text>
<text class="ls" x="450.1" y="252.7" font-size="6.6" text-anchor="middle" fill="#000" stroke="#000" stroke-width="0.22" textLength="50" lengthAdjust="spacingAndGlyphs">Db-Uty Tetramer</text>
<text class="ls" x="400.20000000000005" y="206" font-size="6.8" text-anchor="middle" fill="#000" transform="rotate(-90 400.20000000000005 206)" stroke="#000" stroke-width="0.22" textLength="35" lengthAdjust="spacingAndGlyphs">CD8-PerCP</text>
<text class="ls" x="464.2" y="202.9" font-size="14.2" font-weight="bold" text-anchor="start" fill="#000">iv</text>
<text class="ls" x="99" y="300.7" font-size="13.5" font-weight="bold" text-anchor="middle" fill="#000">PBS-treated</text>
<text class="ls" x="202" y="300.7" font-size="13.4" font-weight="bold" text-anchor="middle" fill="#000">Peptide-treated</text>
<text class="ls" x="369.6" y="300.7" font-size="13.5" font-weight="bold" text-anchor="middle" fill="#000">PBS-treated</text>
<text class="ls" x="467.6" y="300.7" font-size="13.4" font-weight="bold" text-anchor="middle" fill="#000">Peptide-treated</text>
<path d="M51.8 306.3H150.2V407" fill="none" stroke="#666" stroke-width="0.85"/>
<path d="M51.8 306.3V404.5H150.2" fill="none" stroke="#555" stroke-width="0.95"/>
<path d="M154.6 306.3H251.8V407" fill="none" stroke="#666" stroke-width="0.85"/>
<path d="M154.6 306.3V404.5H251.8" fill="none" stroke="#555" stroke-width="0.95"/>
<path d="M317.6 306.3H415.2V407" fill="none" stroke="#666" stroke-width="0.85"/>
<path d="M317.6 306.3V404.5H415.2" fill="none" stroke="#555" stroke-width="0.95"/>
<path d="M419.6 306.3H517.6V407" fill="none" stroke="#666" stroke-width="0.85"/>
<path d="M419.6 306.3V404.5H517.6" fill="none" stroke="#555" stroke-width="0.95"/>
<path d="M51.8 404.40h-2M154.6 404.40h-2M51.8 371.70h-2M154.6 371.70h-2M51.8 339.00h-2M154.6 339.00h-2M51.8 306.30h-2M154.6 306.30h-2M317.6 404.40h-2.4M419.6 404.40h-2M317.6 379.88h-2.4M419.6 379.88h-2M317.6 355.36h-2.4M419.6 355.36h-2M317.6 330.84h-2.4M419.6 330.84h-2M317.6 306.32h-2.4M419.6 306.32h-2M64.8 404.6v3.2M77 404.6v3.2M89 404.6v3.2M101.1 404.6v3.2M113.4 404.6v3.2M125.8 404.6v3.2M137.9 404.6v3.2M167 404.6v3.2M178.8 404.6v3.2M190.8 404.6v3.2M203 404.6v3.2M215.5 404.6v3.2M227.6 404.6v3.2M239.8 404.6v3.2M329.6 404.6v3.2M342 404.6v3.2M354 404.6v3.2M366.4 404.6v3.2M378.6 404.6v3.2M391 404.6v3.2M403 404.6v3.2M432 404.6v3.2M444.2 404.6v3.2M456.6 404.6v3.2M468.2 404.6v3.2M480.4 404.6v3.2M493 404.6v3.2M505.4 404.6v3.2" stroke="#333" stroke-width="0.8" fill="none"/>
<text class="lf" x="63" y="422.7" font-size="10.4" text-anchor="middle" fill="#000">0</text>
<text class="lf" x="75.5" y="422.7" font-size="10.4" text-anchor="middle" fill="#000">7</text>
<text class="lf" x="88.4" y="422.7" font-size="10.4" text-anchor="middle" fill="#000">14</text>
<text class="lf" x="102" y="422.7" font-size="10.4" text-anchor="middle" fill="#000">21</text>
<text class="lf" x="115" y="422.7" font-size="10.4" text-anchor="middle" fill="#000">28</text>
<text class="lf" x="128" y="422.7" font-size="10.4" text-anchor="middle" fill="#000">35</text>
<text class="lf" x="140.5" y="422.7" font-size="10.4" text-anchor="middle" fill="#000">52</text>
<text class="lf" x="165.6" y="422.7" font-size="10.4" text-anchor="middle" fill="#000">0</text>
<text class="lf" x="178.2" y="422.7" font-size="10.4" text-anchor="middle" fill="#000">7</text>
<text class="lf" x="190.9" y="422.7" font-size="10.4" text-anchor="middle" fill="#000">14</text>
<text class="lf" x="204.3" y="422.7" font-size="10.4" text-anchor="middle" fill="#000">21</text>
<text class="lf" x="217.4" y="422.7" font-size="10.4" text-anchor="middle" fill="#000">28</text>
<text class="lf" x="230" y="422.7" font-size="10.4" text-anchor="middle" fill="#000">35</text>
<text class="lf" x="242.6" y="422.7" font-size="10.4" text-anchor="middle" fill="#000">52</text>
<text class="lf" x="329.5" y="422.7" font-size="10.4" text-anchor="middle" fill="#000">0</text>
<text class="lf" x="341.3" y="422.7" font-size="10.4" text-anchor="middle" fill="#000">7</text>
<text class="lf" x="354.1" y="422.7" font-size="10.4" text-anchor="middle" fill="#000">14</text>
<text class="lf" x="367.6" y="422.7" font-size="10.4" text-anchor="middle" fill="#000">21</text>
<text class="lf" x="380.3" y="422.7" font-size="10.4" text-anchor="middle" fill="#000">28</text>
<text class="lf" x="393.3" y="422.7" font-size="10.4" text-anchor="middle" fill="#000">35</text>
<text class="lf" x="406.2" y="422.7" font-size="10.4" text-anchor="middle" fill="#000">52</text>
<text class="lf" x="431.2" y="422.7" font-size="10.4" text-anchor="middle" fill="#000">0</text>
<text class="lf" x="443.4" y="422.7" font-size="10.4" text-anchor="middle" fill="#000">7</text>
<text class="lf" x="456.6" y="422.7" font-size="10.4" text-anchor="middle" fill="#000">14</text>
<text class="lf" x="469.5" y="422.7" font-size="10.4" text-anchor="middle" fill="#000">21</text>
<text class="lf" x="482" y="422.7" font-size="10.4" text-anchor="middle" fill="#000">28</text>
<text class="lf" x="495.2" y="422.7" font-size="10.4" text-anchor="middle" fill="#000">35</text>
<text class="lf" x="508.3" y="422.7" font-size="10.4" text-anchor="middle" fill="#000">52</text>
<text class="lf" x="49.6" y="312.2" font-size="9.4" text-anchor="end" fill="#000">1.5</text>
<text class="lf" x="49.6" y="343.8" font-size="9.4" text-anchor="end" fill="#000">1</text>
<text class="lf" x="49.6" y="376.6" font-size="9.4" text-anchor="end" fill="#000">0.5</text>
<text class="lf" x="49.6" y="408.6" font-size="9.4" text-anchor="end" fill="#000">0</text>
<text class="lf" x="314.2" y="312.2" font-size="10.2" text-anchor="end" fill="#000">10</text>
<text class="lf" x="314.2" y="335.8" font-size="10.2" text-anchor="end" fill="#000">7.5</text>
<text class="lf" x="314.2" y="359.4" font-size="10.2" text-anchor="end" fill="#000">5</text>
<text class="lf" x="314.2" y="384.2" font-size="10.2" text-anchor="end" fill="#000">2.5</text>
<text class="lf" x="314.2" y="409.4" font-size="10.2" text-anchor="end" fill="#000">0</text>
<text class="ls" x="14.4" y="393.8" font-size="14" font-weight="bold" text-anchor="start" fill="#000" transform="rotate(-90 14.4 393.8)" textLength="70.6" lengthAdjust="spacingAndGlyphs">Ratio male</text>
<text class="ls" x="26.4" y="397.6" font-size="13.8" font-weight="bold" text-anchor="start" fill="#000" transform="rotate(-90 26.4 397.6)" textLength="94.4" lengthAdjust="spacingAndGlyphs">to female cells</text>
<text class="ls" x="276.8" y="393.8" font-size="13.4" font-weight="bold" text-anchor="start" fill="#000" transform="rotate(-90 276.8 393.8)" textLength="77.4" lengthAdjust="spacingAndGlyphs">% HY/DbUty</text>
<text class="ls" x="297.6" y="394" font-size="13.6" font-weight="bold" text-anchor="start" fill="#000" transform="rotate(-90 297.6 394)" textLength="93.2" lengthAdjust="spacingAndGlyphs">tet<tspan dy="-4" font-size="11">+</tspan><tspan dy="4">CD8</tspan><tspan dy="-4" font-size="11">+</tspan><tspan dy="4"> cells</tspan></text>
<text class="ls" x="154.8" y="448.2" font-size="14.2" font-weight="bold" text-anchor="start" fill="#000" textLength="267" lengthAdjust="spacingAndGlyphs">Days after injection of CFSE-labeled cells</text>
<text class="ls" x="131.4" y="331.2" font-size="14.6" font-weight="bold" text-anchor="start" fill="#000">i</text>
<text class="ls" x="222.8" y="331" font-size="14.6" font-weight="bold" text-anchor="start" fill="#000" textLength="7.4" lengthAdjust="spacingAndGlyphs">ii</text>
<text class="ls" x="392.8" y="332.2" font-size="15.4" font-weight="bold" text-anchor="start" fill="#000" textLength="10.4" lengthAdjust="spacingAndGlyphs">iii</text>
<text class="ls" x="487" y="332.8" font-size="15.4" font-weight="bold" text-anchor="start" fill="#000" textLength="11" lengthAdjust="spacingAndGlyphs">iv</text>
<rect x="61.30" y="321.70" width="6.6" height="6.6" fill="#fff" stroke="#262626" stroke-width="0.95"/>
<circle cx="77" cy="328" r="3.2" fill="#fff" stroke="#929292" stroke-width="0.8"/>
<path d="M77 339.0L79.28 334.8H74.72z" fill="#fff" stroke="#929292" stroke-width="0.8"/>
<rect x="73.70" y="329.90" width="6.6" height="6.6" fill="#fff" stroke="#262626" stroke-width="0.95"/>
<path d="M89 402.1L92.135 396.325H85.865z" fill="#fff" stroke="#a8a8a8" stroke-width="0.8"/>
<circle cx="89.1" cy="393.3" r="3.2" fill="#fff" stroke="#222" stroke-width="0.8"/>
<path d="M85.89999999999999 393.3H92.3M89.1 390.1V396.5" stroke="#222" stroke-width="0.7200000000000001" fill="none"/>
<path d="M90.3 395.4L92.57499999999999 394.22999999999996V396.57z" fill="#000" stroke="#000" stroke-width="0.6"/>
<rect x="97.70" y="395.30" width="6.6" height="6.6" fill="#fff" stroke="#262626" stroke-width="0.95"/>
<rect x="110.00" y="397.20" width="6.0" height="6.0" fill="#fff" stroke="#929292" stroke-width="0.95"/>
<path d="M113.2 402.8L115.29 398.95000000000005H111.11z" fill="#fff" stroke="#929292" stroke-width="0.8"/>
<path d="M114.9 400.6L117.175 399.43V401.77000000000004z" fill="#000" stroke="#000" stroke-width="0.6"/>
<rect x="122.50" y="396.10" width="6.6" height="6.6" fill="#fff" stroke="#262626" stroke-width="0.95"/>
<rect x="134.70" y="397.50" width="6.6" height="6.6" fill="#fff" stroke="#262626" stroke-width="0.95"/>
<rect x="163.70" y="321.70" width="6.6" height="6.6" fill="#fff" stroke="#262626" stroke-width="0.95"/>
<path d="M178.8 306.8L182.03 312.75H175.57000000000002z" fill="#fff" stroke="#333" stroke-width="0.8"/>
<rect x="175.90" y="312.30" width="6.6" height="6.6" fill="#fff" stroke="#262626" stroke-width="0.95"/>
<circle cx="178.8" cy="323.8" r="3.2" fill="#fff" stroke="#929292" stroke-width="0.8"/>
<path d="M188.6 328L193.5 325.48V330.52z" fill="#000" stroke="#000" stroke-width="0.6"/>
<path d="M190.8 342.7L193.935 336.92499999999995H187.66500000000002z" fill="#fff" stroke="#929292" stroke-width="0.8"/>
<circle cx="190.8" cy="343.8" r="3.0" fill="#fff" stroke="#222" stroke-width="0.8"/>
<path d="M187.8 343.8H193.8M190.8 340.8V346.8" stroke="#222" stroke-width="0.7200000000000001" fill="none"/>
<path d="M193.3 349.6L187.525 346.46500000000003V352.735z" fill="#fff" stroke="#929292" stroke-width="0.8"/>
<path d="M203 328.40000000000003L206.23 334.35H199.77z" fill="#fff" stroke="#333" stroke-width="0.8"/>
<path d="M203 358.7L206.3 362L203 365.3L199.7 362z" fill="#fff" stroke="#929292" stroke-width="0.85"/>
<rect x="199.70" y="379.50" width="6.6" height="6.6" fill="#fff" stroke="#262626" stroke-width="0.95"/>
<circle cx="203" cy="393.6" r="3.2" fill="#fff" stroke="#929292" stroke-width="0.8"/>
<path d="M215.6 341.5L218.73499999999999 335.72499999999997H212.465z" fill="#fff" stroke="#929292" stroke-width="0.8"/>
<path d="M212.79999999999998 357.2L217.7 354.68V359.71999999999997z" fill="#000" stroke="#000" stroke-width="0.6"/>
<circle cx="215.6" cy="389.4" r="3.0" fill="#fff" stroke="#222" stroke-width="0.8"/>
<path d="M212.6 389.4H218.6M215.6 386.4V392.4" stroke="#222" stroke-width="0.7200000000000001" fill="none"/>
<path d="M218.3 394.4L212.525 391.265V397.53499999999997z" fill="#fff" stroke="#929292" stroke-width="0.8"/>
<path d="M227.6 341.0L230.82999999999998 346.95H224.37z" fill="#fff" stroke="#333" stroke-width="0.8"/>
<circle cx="228" cy="399" r="2.8" fill="#fff" stroke="#929292" stroke-width="0.8"/>
<rect x="224.70" y="392.90" width="6.6" height="6.6" fill="#fff" stroke="#262626" stroke-width="0.95"/>
<path d="M239.6 327.5L242.73499999999999 321.72499999999997H236.465z" fill="#fff" stroke="#929292" stroke-width="0.8"/>
<path d="M239.6 357.0L242.82999999999998 362.95H236.37z" fill="#fff" stroke="#333" stroke-width="0.8"/>
<path d="M237.39999999999998 372.4L242.29999999999998 369.88V374.91999999999996z" fill="#000" stroke="#000" stroke-width="0.6"/>
<circle cx="240" cy="394.2" r="3.2" fill="#fff" stroke="#929292" stroke-width="0.8"/>
<rect x="236.70" y="394.70" width="6.6" height="6.6" fill="#fff" stroke="#262626" stroke-width="0.95"/>
<rect x="326.20" y="400.80" width="6.8" height="6.8" fill="#fff" stroke="#262626" stroke-width="0.95"/>
<rect x="338.60" y="400.80" width="6.8" height="6.8" fill="#fff" stroke="#262626" stroke-width="0.95"/>
<path d="M357.0 317.2L351.40000000000003 314.15999999999997V320.24z" fill="#fff" stroke="#929292" stroke-width="0.8"/>
<path d="M353.6 386.2L356.45000000000005 380.95H350.75z" fill="#fff" stroke="#b0b0b0" stroke-width="0.8"/>
<path d="M352.2 388.2L356.04999999999995 386.21999999999997V390.18z" fill="#000" stroke="#000" stroke-width="0.6"/>
<circle cx="354" cy="395.2" r="3.0" fill="#fff" stroke="#222" stroke-width="0.8"/>
<path d="M351.0 395.2H357.0M354 392.2V398.2" stroke="#222" stroke-width="0.7200000000000001" fill="none"/>
<path d="M366.2 320.8L369.2 323.8L366.2 326.8L363.2 323.8z" fill="#fff" stroke="#666" stroke-width="0.85"/>
<path d="M366.4 391.8L369.25 397.05H363.54999999999995z" fill="#fff" stroke="#333" stroke-width="0.8"/>
<circle cx="366.4" cy="386.6" r="2.8" fill="#fff" stroke="#555" stroke-width="0.8"/>
<rect x="363.30" y="386.10" width="6.2" height="6.2" fill="#fff" stroke="#262626" stroke-width="0.95"/>
<path d="M378.4 356.4L381.44 350.8H375.35999999999996z" fill="#fff" stroke="#929292" stroke-width="0.8"/>
<path d="M376.5 382.6L380.875 380.35V384.85z" fill="#000" stroke="#000" stroke-width="0.6"/>
<path d="M380.8 398L375.55 395.15V400.85z" fill="#fff" stroke="#aaa" stroke-width="0.8"/>
<rect x="376.10" y="391.10" width="5.0" height="5.0" fill="#fff" stroke="#666" stroke-width="0.95"/>
<circle cx="378.6" cy="393.6" r="2.9" fill="#fff" stroke="#444" stroke-width="0.8"/>
<path d="M375.70000000000005 393.6H381.5M378.6 390.70000000000005V396.5" stroke="#444" stroke-width="0.7200000000000001" fill="none"/>
<path d="M391 377.9L394.1 381L391 384.1L387.9 381z" fill="#fff" stroke="#666" stroke-width="0.85"/>
<path d="M391 394.2L393.85 399.45H388.15z" fill="#fff" stroke="#444" stroke-width="0.8"/>
<rect x="387.80" y="388.80" width="6.4" height="6.4" fill="#fff" stroke="#262626" stroke-width="0.95"/>
<path d="M402.6 367.8L405.45000000000005 362.55H399.75z" fill="#fff" stroke="#929292" stroke-width="0.8"/>
<path d="M403 403.40000000000003L405.66 398.5H400.34z" fill="#fff" stroke="#aaa" stroke-width="0.8"/>
<path d="M403 383.4L406.0 386.4L403 389.4L400.0 386.4z" fill="#fff" stroke="#666" stroke-width="0.85"/>
<circle cx="403" cy="390.2" r="2.8" fill="#fff" stroke="#666" stroke-width="0.8"/>
<rect x="399.70" y="390.90" width="6.6" height="6.6" fill="#fff" stroke="#262626" stroke-width="0.95"/>
<rect x="429.10" y="401.30" width="5.8" height="5.8" fill="#fff" stroke="#262626" stroke-width="0.95"/>
<rect x="441.30" y="401.30" width="5.8" height="5.8" fill="#fff" stroke="#262626" stroke-width="0.95"/>
<rect x="454.00" y="395.40" width="5.2" height="5.2" fill="#fff" stroke="#777" stroke-width="0.95"/>
<path d="M456.6 401.2L459.45000000000005 395.95H453.75z" fill="#fff" stroke="#444" stroke-width="0.8"/>
<path d="M456.5 398.8L459.125 397.45V400.15000000000003z" fill="#000" stroke="#000" stroke-width="0.6"/>
<path d="M456.4 405.0L457.91999999999996 402.2H454.88z" fill="#fff" stroke="#444" stroke-width="0.8"/>
<circle cx="468.2" cy="397" r="2.8" fill="#fff" stroke="#555" stroke-width="0.8"/>
<circle cx="468.2" cy="400.2" r="3.0" fill="#fff" stroke="#555" stroke-width="0.8"/>
<rect x="465.80" y="401.80" width="4.8" height="4.8" fill="#fff" stroke="#262626" stroke-width="0.95"/>
<circle cx="480.4" cy="401.4" r="3.0" fill="#fff" stroke="#929292" stroke-width="0.8"/>
<path d="M480.6 405.0L482.88 400.8H478.32000000000005z" fill="#fff" stroke="#666" stroke-width="0.8"/>
<circle cx="493" cy="397.4" r="3.0" fill="#fff" stroke="#929292" stroke-width="0.8"/>
<rect x="490.10" y="400.10" width="5.8" height="5.8" fill="#fff" stroke="#262626" stroke-width="0.95"/>
<circle cx="505.4" cy="397.4" r="3.0" fill="#fff" stroke="#929292" stroke-width="0.8"/>
<rect x="502.50" y="400.10" width="5.8" height="5.8" fill="#fff" stroke="#262626" stroke-width="0.95"/>
</svg></body></html>
